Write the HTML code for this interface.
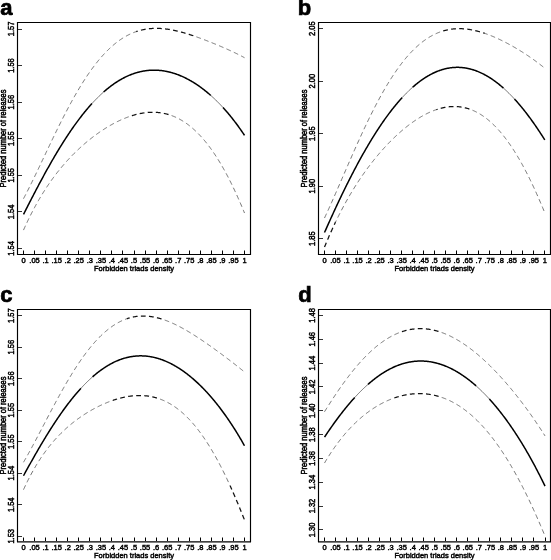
<!DOCTYPE html>
<html><head><meta charset="utf-8"><style>
html,body{margin:0;padding:0;background:#fff;}
svg{display:block;filter:grayscale(1);}
text{font-family:"Liberation Sans", sans-serif;fill:#000;stroke:#000;stroke-width:0.45px;}
.xl{font-size:7.5px;text-anchor:middle;}
.yl{font-size:7.5px;text-anchor:middle;}
.letter{font-size:22px;font-weight:bold;stroke:#000;stroke-width:0.7px;}
.box{fill:none;stroke:#000;stroke-width:1.15;}
.ytick{stroke:#333;stroke-width:1;}
.xtick{stroke:#000;stroke-width:1;}
.solidT{fill:none;stroke:#000;stroke-width:1.5;}
.solidt{fill:none;stroke:#444;stroke-width:0.8;}
.dashT{fill:none;stroke:#111;stroke-width:1.25;stroke-dasharray:4.8 3.3;}
.dasht{fill:none;stroke:#505050;stroke-width:0.8;stroke-dasharray:4.8 3.3;}
</style></head><body>
<svg width="551" height="560" viewBox="0 0 551 560">
<path d="M23.50,198.67 L24.05,197.63 L24.61,196.58 L25.16,195.52 L25.71,194.46 L26.26,193.39 L26.82,192.32 L27.37,191.24 L27.92,190.15 L28.47,189.06 L29.02,187.96 L29.58,186.86 L30.13,185.75 L30.68,184.64 L31.23,183.52 L31.79,182.40 L32.34,181.28 L32.89,180.15 L33.45,179.02 L34.00,177.88 L34.55,176.74 L35.10,175.60 L35.66,174.46 L36.21,173.31 L36.76,172.16 L37.31,171.01 L37.87,169.86 L38.42,168.70 L38.97,167.54 L39.52,166.38 L40.08,165.22 L40.63,164.06 L41.18,162.90 L41.73,161.73 L42.28,160.57 L42.84,159.41 L43.39,158.24 L43.94,157.08 L44.50,155.91 L45.05,154.75 L45.60,153.58 L46.15,152.42 L46.70,151.25 L47.26,150.09 L47.81,148.93 L48.36,147.77 L48.92,146.61 L49.47,145.45 L50.02,144.29 L50.57,143.14 L51.12,141.98 L51.68,140.83 L52.23,139.68 L52.78,138.54 L53.34,137.39 L53.89,136.25 L54.44,135.11 L54.99,133.97 L55.54,132.84 L56.10,131.71 L56.65,130.58 L57.20,129.45 L57.76,128.33 L58.31,127.21 L58.86,126.10 L59.41,124.98 L59.97,123.88 L60.52,122.77 L61.07,121.67 L61.62,120.58 L62.18,119.48 L62.73,118.40 L63.28,117.31 L63.83,116.23 L64.38,115.16 L64.94,114.09 L65.49,113.03 L66.04,111.96 L66.59,110.91 L67.15,109.86 L67.70,108.81 L68.25,107.77 L68.81,106.74 L69.36,105.71 L69.91,104.68 L70.46,103.67 L71.02,102.65 L71.57,101.64 L72.12,100.64 L72.67,99.65 L73.22,98.66 L73.78,97.67 L74.33,96.69 L74.88,95.72 L75.44,94.75 L75.99,93.79 L76.54,92.84 L77.09,91.89 L77.64,90.95 L78.20,90.01 L78.75,89.08 L79.30,88.16 L79.86,87.25 L80.41,86.34 L80.96,85.43 L81.51,84.54 L82.06,83.65 L82.62,82.76 L83.17,81.89 L83.72,81.02 L84.28,80.16 L84.83,79.30 L85.38,78.45 L85.93,77.61 L86.49,76.78 L87.04,75.95 L87.59,75.13 L88.14,74.32 L88.69,73.51 L89.25,72.71 L89.80,71.92 L90.35,71.14 L90.91,70.36 L91.46,69.59 L92.01,68.83 L92.56,68.07 L93.11,67.33 L93.67,66.58 L94.22,65.85 L94.77,65.13 L95.33,64.41 L95.88,63.70 L96.43,62.99 L96.98,62.30 L97.54,61.61 L98.09,60.93 L98.64,60.26 L99.19,59.59 L99.75,58.93 L100.30,58.28 L100.85,57.64 L101.40,57.00 L101.95,56.37 L102.51,55.75 L103.06,55.14 L103.61,54.53 L104.16,53.93 L104.72,53.34 L105.27,52.76 L105.82,52.18 L106.38,51.62 L106.93,51.06 L107.48,50.50 L108.03,49.96 L108.59,49.42 L109.14,48.89 L109.69,48.36 L110.24,47.85 L110.80,47.34 L111.35,46.84 L111.90,46.35 L112.45,45.86 L113.01,45.38 L113.56,44.91 L114.11,44.44 L114.66,43.99 L115.22,43.54 L115.77,43.10 L116.32,42.66 L116.87,42.23 L117.42,41.81 L117.98,41.40 L118.53,40.99 L119.08,40.59 L119.64,40.20 L120.19,39.82 L120.74,39.44 L121.29,39.07 L121.84,38.71 L122.40,38.35 L122.95,38.00 L123.50,37.66 L124.06,37.32 L124.61,36.99 L125.16,36.67 L125.71,36.35 L126.27,36.05 L126.82,35.74 L127.37,35.45 L127.92,35.16 L128.48,34.88 L129.03,34.60 L129.58,34.33 L130.13,34.07 L130.69,33.82 L131.24,33.57 L131.79,33.33 L132.34,33.09 L132.89,32.86 L133.45,32.64 L134.00,32.42 L134.55,32.21 L135.11,32.00 L135.66,31.80 L136.21,31.61" class="dasht" stroke-dashoffset="0.00"/>
<path d="M136.21,31.61 L136.76,31.42 L137.31,31.24 L137.87,31.07 L138.42,30.90 L138.97,30.74 L139.53,30.58 L140.08,30.43 L140.63,30.28 L141.18,30.14 L141.74,30.01 L142.29,29.88 L142.84,29.76 L143.39,29.64 L143.94,29.53 L144.50,29.42 L145.05,29.32 L145.60,29.23 L146.16,29.14 L146.71,29.05 L147.26,28.97 L147.81,28.90 L148.37,28.83 L148.92,28.76 L149.47,28.70 L150.02,28.65 L150.58,28.60 L151.13,28.56 L151.68,28.52 L152.23,28.48 L152.78,28.45 L153.34,28.42 L153.89,28.40 L154.44,28.39 L155.00,28.38 L155.55,28.37 L156.10,28.36 L156.65,28.37 L157.20,28.37 L157.76,28.38 L158.31,28.40 L158.86,28.41 L159.41,28.44 L159.97,28.46 L160.52,28.49 L161.07,28.53 L161.62,28.57 L162.18,28.61 L162.73,28.66 L163.28,28.70 L163.84,28.76 L164.39,28.82 L164.94,28.88 L165.49,28.94 L166.05,29.01 L166.60,29.08 L167.15,29.16 L167.70,29.23 L168.25,29.32 L168.81,29.40 L169.36,29.49 L169.91,29.58 L170.47,29.68 L171.02,29.77 L171.57,29.87 L172.12,29.98 L172.68,30.08 L173.23,30.19 L173.78,30.31 L174.33,30.42 L174.89,30.54 L175.44,30.66 L175.99,30.78 L176.54,30.91 L177.10,31.04 L177.65,31.17 L178.20,31.30 L178.75,31.44 L179.30,31.58 L179.86,31.72 L180.41,31.86 L180.96,32.01 L181.51,32.16 L182.07,32.31 L182.62,32.46 L183.17,32.61 L183.72,32.77 L184.28,32.93 L184.83,33.09 L185.38,33.25 L185.94,33.42 L186.49,33.58 L187.04,33.75 L187.59,33.92 L188.15,34.09 L188.70,34.27 L189.25,34.44 L189.80,34.62 L190.35,34.80 L190.91,34.98 L191.46,35.16 L192.01,35.34 L192.56,35.52 L193.12,35.71 L193.67,35.90 L194.22,36.09" class="dashT" stroke-dashoffset="205.67"/>
<path d="M194.22,36.09 L194.78,36.28 L195.33,36.47 L195.88,36.66 L196.43,36.86 L196.99,37.05 L197.54,37.25 L198.09,37.45 L198.64,37.65 L199.20,37.85 L199.75,38.05 L200.30,38.25 L200.85,38.45 L201.41,38.66 L201.96,38.87 L202.51,39.07 L203.06,39.28 L203.62,39.49 L204.17,39.70 L204.72,39.91 L205.27,40.12 L205.83,40.33 L206.38,40.55 L206.93,40.76 L207.48,40.98 L208.03,41.20 L208.59,41.41 L209.14,41.63 L209.69,41.85 L210.25,42.07 L210.80,42.29 L211.35,42.51 L211.90,42.73 L212.45,42.96 L213.01,43.18 L213.56,43.41 L214.11,43.63 L214.66,43.86 L215.22,44.09 L215.77,44.31 L216.32,44.54 L216.88,44.77 L217.43,45.00 L217.98,45.23 L218.53,45.47 L219.09,45.70 L219.64,45.93 L220.19,46.17 L220.74,46.40 L221.30,46.64 L221.85,46.88 L222.40,47.11 L222.95,47.35 L223.50,47.59 L224.06,47.84 L224.61,48.08 L225.16,48.32 L225.72,48.56 L226.27,48.81 L226.82,49.06 L227.37,49.30 L227.93,49.55 L228.48,49.80 L229.03,50.05 L229.58,50.30 L230.14,50.56 L230.69,50.81 L231.24,51.07 L231.79,51.32 L232.35,51.58 L232.90,51.84 L233.45,52.10 L234.00,52.37 L234.56,52.63 L235.11,52.90 L235.66,53.16 L236.21,53.43 L236.76,53.70 L237.32,53.98 L237.87,54.25 L238.42,54.53 L238.97,54.81 L239.53,55.09 L240.08,55.37 L240.63,55.65 L241.19,55.94 L241.74,56.23 L242.29,56.52 L242.84,56.81 L243.40,57.11 L243.95,57.40 L244.50,57.70" class="dasht" stroke-dashoffset="264.99"/>
<path d="M23.50,230.10 L24.05,228.87 L24.61,227.64 L25.16,226.43 L25.71,225.23 L26.26,224.04 L26.82,222.86 L27.37,221.69 L27.92,220.54 L28.47,219.39 L29.02,218.26 L29.58,217.14 L30.13,216.03 L30.68,214.93 L31.23,213.84 L31.79,212.76 L32.34,211.69 L32.89,210.64 L33.45,209.59 L34.00,208.55 L34.55,207.52 L35.10,206.50 L35.66,205.49 L36.21,204.50 L36.76,203.51 L37.31,202.53 L37.87,201.55 L38.42,200.59 L38.97,199.64 L39.52,198.70 L40.08,197.76 L40.63,196.83 L41.18,195.92 L41.73,195.01 L42.28,194.10 L42.84,193.21 L43.39,192.33 L43.94,191.45 L44.50,190.58 L45.05,189.72 L45.60,188.87 L46.15,188.02 L46.70,187.18 L47.26,186.35 L47.81,185.53 L48.36,184.72 L48.92,183.91 L49.47,183.11 L50.02,182.31 L50.57,181.52 L51.12,180.74 L51.68,179.97 L52.23,179.20 L52.78,178.44 L53.34,177.69 L53.89,176.94 L54.44,176.20 L54.99,175.47 L55.54,174.74 L56.10,174.02 L56.65,173.30 L57.20,172.60 L57.76,171.89 L58.31,171.19 L58.86,170.50 L59.41,169.82 L59.97,169.14 L60.52,168.46 L61.07,167.79 L61.62,167.13 L62.18,166.47 L62.73,165.82 L63.28,165.17 L63.83,164.53 L64.38,163.89 L64.94,163.26 L65.49,162.63 L66.04,162.01 L66.59,161.40 L67.15,160.79 L67.70,160.18 L68.25,159.58 L68.81,158.98 L69.36,158.39 L69.91,157.80 L70.46,157.22 L71.02,156.64 L71.57,156.07 L72.12,155.50 L72.67,154.93 L73.22,154.37 L73.78,153.82 L74.33,153.26 L74.88,152.72 L75.44,152.17 L75.99,151.63 L76.54,151.10 L77.09,150.57 L77.64,150.04 L78.20,149.52 L78.75,149.00 L79.30,148.49 L79.86,147.98 L80.41,147.47 L80.96,146.97 L81.51,146.47 L82.06,145.98 L82.62,145.49 L83.17,145.00 L83.72,144.52 L84.28,144.04 L84.83,143.56 L85.38,143.09 L85.93,142.62 L86.49,142.15 L87.04,141.69 L87.59,141.24 L88.14,140.78 L88.69,140.33 L89.25,139.88 L89.80,139.44 L90.35,139.00 L90.91,138.57 L91.46,138.13 L92.01,137.70 L92.56,137.28 L93.11,136.86 L93.67,136.44 L94.22,136.02 L94.77,135.61 L95.33,135.20 L95.88,134.79 L96.43,134.39 L96.98,133.99 L97.54,133.60 L98.09,133.21 L98.64,132.82 L99.19,132.43 L99.75,132.05 L100.30,131.67 L100.85,131.30 L101.40,130.92 L101.95,130.56 L102.51,130.19 L103.06,129.83 L103.61,129.47 L104.16,129.11 L104.72,128.76 L105.27,128.41 L105.82,128.07 L106.38,127.73 L106.93,127.39 L107.48,127.05 L108.03,126.72 L108.59,126.39 L109.14,126.07 L109.69,125.74 L110.24,125.42 L110.80,125.11 L111.35,124.80 L111.90,124.49 L112.45,124.18 L113.01,123.88 L113.56,123.58 L114.11,123.29 L114.66,123.00 L115.22,122.71 L115.77,122.42 L116.32,122.14 L116.87,121.86 L117.42,121.59 L117.98,121.32 L118.53,121.05 L119.08,120.79 L119.64,120.53 L120.19,120.27 L120.74,120.02 L121.29,119.77 L121.84,119.52 L122.40,119.28 L122.95,119.04 L123.50,118.81 L124.06,118.58 L124.61,118.35 L125.16,118.13 L125.71,117.91 L126.27,117.69 L126.82,117.48 L127.37,117.27 L127.92,117.06 L128.48,116.86 L129.03,116.67 L129.58,116.47" class="dasht" stroke-dashoffset="0.00"/>
<path d="M129.58,116.47 L130.13,116.28 L130.69,116.10 L131.24,115.92 L131.79,115.74 L132.34,115.57 L132.89,115.40 L133.45,115.23 L134.00,115.07 L134.55,114.92 L135.11,114.76 L135.66,114.62 L136.21,114.47 L136.76,114.33 L137.31,114.20 L137.87,114.07 L138.42,113.94 L138.97,113.82 L139.53,113.70 L140.08,113.59 L140.63,113.48 L141.18,113.37 L141.74,113.27 L142.29,113.18 L142.84,113.08 L143.39,113.00 L143.94,112.92 L144.50,112.84 L145.05,112.77 L145.60,112.70 L146.16,112.64 L146.71,112.58 L147.26,112.53 L147.81,112.48 L148.37,112.44 L148.92,112.40 L149.47,112.36 L150.02,112.34 L150.58,112.31 L151.13,112.29 L151.68,112.28 L152.23,112.27 L152.78,112.27 L153.34,112.27 L153.89,112.28 L154.44,112.30 L155.00,112.31 L155.55,112.34 L156.10,112.37 L156.65,112.40 L157.20,112.44 L157.76,112.49 L158.31,112.54 L158.86,112.60 L159.41,112.66 L159.97,112.73 L160.52,112.80 L161.07,112.88 L161.62,112.97 L162.18,113.06 L162.73,113.16 L163.28,113.26 L163.84,113.37 L164.39,113.49 L164.94,113.61 L165.49,113.74 L166.05,113.87 L166.60,114.01 L167.15,114.16 L167.70,114.31 L168.25,114.47 L168.81,114.63 L169.36,114.80 L169.91,114.98 L170.47,115.17" class="dashT" stroke-dashoffset="159.58"/>
<path d="M170.47,115.17 L171.02,115.36 L171.57,115.55 L172.12,115.76 L172.68,115.97 L173.23,116.19 L173.78,116.41 L174.33,116.64 L174.89,116.88 L175.44,117.12 L175.99,117.37 L176.54,117.63 L177.10,117.89 L177.65,118.17 L178.20,118.44 L178.75,118.73 L179.30,119.02 L179.86,119.32 L180.41,119.63 L180.96,119.94 L181.51,120.26 L182.07,120.59 L182.62,120.93 L183.17,121.27 L183.72,121.62 L184.28,121.98 L184.83,122.35 L185.38,122.72 L185.94,123.10 L186.49,123.49 L187.04,123.89 L187.59,124.29 L188.15,124.70 L188.70,125.12 L189.25,125.55 L189.80,125.98 L190.35,126.42 L190.91,126.87 L191.46,127.33 L192.01,127.80 L192.56,128.27 L193.12,128.76 L193.67,129.25 L194.22,129.74 L194.78,130.25 L195.33,130.77 L195.88,131.29 L196.43,131.82 L196.99,132.36 L197.54,132.91 L198.09,133.46 L198.64,134.03 L199.20,134.60 L199.75,135.18 L200.30,135.77 L200.85,136.37 L201.41,136.98 L201.96,137.60 L202.51,138.22 L203.06,138.85 L203.62,139.50 L204.17,140.15 L204.72,140.81 L205.27,141.48 L205.83,142.15 L206.38,142.84 L206.93,143.53 L207.48,144.24 L208.03,144.95 L208.59,145.67 L209.14,146.40 L209.69,147.14 L210.25,147.89 L210.80,148.65 L211.35,149.42 L211.90,150.19 L212.45,150.98 L213.01,151.77 L213.56,152.58 L214.11,153.39 L214.66,154.21 L215.22,155.05 L215.77,155.89 L216.32,156.74 L216.88,157.60 L217.43,158.47 L217.98,159.35 L218.53,160.23 L219.09,161.13 L219.64,162.04 L220.19,162.96 L220.74,163.88 L221.30,164.82 L221.85,165.77 L222.40,166.72 L222.95,167.69 L223.50,168.66 L224.06,169.65 L224.61,170.64 L225.16,171.64 L225.72,172.66 L226.27,173.68 L226.82,174.71 L227.37,175.76 L227.93,176.81 L228.48,177.87 L229.03,178.95 L229.58,180.03 L230.14,181.12 L230.69,182.22 L231.24,183.33 L231.79,184.46 L232.35,185.59 L232.90,186.73 L233.45,187.88 L234.00,189.04 L234.56,190.22 L235.11,191.40 L235.66,192.59 L236.21,193.79 L236.76,195.00 L237.32,196.23 L237.87,197.46 L238.42,198.70 L238.97,199.95 L239.53,201.21 L240.08,202.49 L240.63,203.77 L241.19,205.06 L241.74,206.36 L242.29,207.67 L242.84,209.00 L243.40,210.33 L243.95,211.67 L244.50,213.02" class="dasht" stroke-dashoffset="201.27"/>
<path d="M23.50,214.41 L24.05,213.32 L24.61,212.23 L25.16,211.14 L25.71,210.05 L26.26,208.96 L26.82,207.88 L27.37,206.79 L27.92,205.71 L28.47,204.63 L29.02,203.55 L29.58,202.47 L30.13,201.40 L30.68,200.32 L31.23,199.25 L31.79,198.18 L32.34,197.11 L32.89,196.04 L33.45,194.98 L34.00,193.92 L34.55,192.86 L35.10,191.80 L35.66,190.74 L36.21,189.69 L36.76,188.64 L37.31,187.59 L37.87,186.55 L38.42,185.51 L38.97,184.47 L39.52,183.43 L40.08,182.40 L40.63,181.36 L41.18,180.34 L41.73,179.31 L42.28,178.29 L42.84,177.27 L43.39,176.25 L43.94,175.24 L44.50,174.23 L45.05,173.22 L45.60,172.22 L46.15,171.22 L46.70,170.22 L47.26,169.23 L47.81,168.24 L48.36,167.26 L48.92,166.27 L49.47,165.30 L50.02,164.32 L50.57,163.35 L51.12,162.38 L51.68,161.42 L52.23,160.46 L52.78,159.50 L53.34,158.55 L53.89,157.60 L54.44,156.66 L54.99,155.72 L55.54,154.78 L56.10,153.85 L56.65,152.93 L57.20,152.00 L57.76,151.08 L58.31,150.17 L58.86,149.26 L59.41,148.35 L59.97,147.45 L60.52,146.55 L61.07,145.66 L61.62,144.77 L62.18,143.89 L62.73,143.01 L63.28,142.13 L63.83,141.26 L64.38,140.40 L64.94,139.54 L65.49,138.68 L66.04,137.83 L66.59,136.98 L67.15,136.14 L67.70,135.30 L68.25,134.47 L68.81,133.64 L69.36,132.82 L69.91,132.00 L70.46,131.19 L71.02,130.38 L71.57,129.58 L72.12,128.78 L72.67,127.99 L73.22,127.20 L73.78,126.42 L74.33,125.64 L74.88,124.87 L75.44,124.10 L75.99,123.34 L76.54,122.58 L77.09,121.83 L77.64,121.08 L78.20,120.34 L78.75,119.60 L79.30,118.87 L79.86,118.14 L80.41,117.42 L80.96,116.71 L81.51,115.99 L82.06,115.29 L82.62,114.59 L83.17,113.89 L83.72,113.21 L84.28,112.52 L84.83,111.84 L85.38,111.17 L85.93,110.50 L86.49,109.84 L87.04,109.18 L87.59,108.53 L88.14,107.88 L88.69,107.24 L89.25,106.61 L89.80,105.98 L90.35,105.35 L90.91,104.73 L91.46,104.12 L92.01,103.51" class="solidT"/>
<path d="M92.01,103.51 L92.56,102.91 L93.11,102.31 L93.67,101.72 L94.22,101.14 L94.77,100.55 L95.33,99.98 L95.88,99.41 L96.43,98.85 L96.98,98.29 L97.54,97.73 L98.09,97.19 L98.64,96.65 L99.19,96.11 L99.75,95.58 L100.30,95.05 L100.85,94.53 L101.40,94.02 L101.95,93.51 L102.51,93.01 L103.06,92.51 L103.61,92.02" class="solidt"/>
<path d="M103.61,92.02 L104.16,91.53 L104.72,91.05 L105.27,90.58 L105.82,90.11 L106.38,89.65 L106.93,89.19 L107.48,88.73 L108.03,88.29 L108.59,87.85 L109.14,87.41 L109.69,86.98 L110.24,86.56 L110.80,86.14 L111.35,85.72 L111.90,85.31 L112.45,84.91 L113.01,84.52 L113.56,84.12 L114.11,83.74 L114.66,83.36 L115.22,82.98 L115.77,82.61 L116.32,82.25 L116.87,81.89 L117.42,81.54 L117.98,81.19 L118.53,80.85 L119.08,80.51 L119.64,80.18 L120.19,79.86 L120.74,79.54 L121.29,79.23 L121.84,78.92 L122.40,78.61 L122.95,78.32 L123.50,78.02 L124.06,77.74 L124.61,77.46 L125.16,77.18 L125.71,76.91 L126.27,76.64 L126.82,76.39 L127.37,76.13 L127.92,75.88 L128.48,75.64 L129.03,75.40 L129.58,75.17 L130.13,74.94 L130.69,74.72 L131.24,74.50 L131.79,74.29 L132.34,74.09 L132.89,73.89 L133.45,73.69 L134.00,73.50 L134.55,73.32 L135.11,73.14 L135.66,72.97 L136.21,72.80 L136.76,72.63 L137.31,72.48 L137.87,72.32 L138.42,72.18 L138.97,72.04 L139.53,71.90 L140.08,71.77 L140.63,71.64 L141.18,71.52 L141.74,71.40 L142.29,71.29 L142.84,71.19 L143.39,71.09 L143.94,70.99 L144.50,70.90 L145.05,70.82 L145.60,70.74 L146.16,70.66 L146.71,70.59 L147.26,70.53 L147.81,70.47 L148.37,70.42 L148.92,70.37 L149.47,70.32 L150.02,70.28 L150.58,70.25 L151.13,70.22 L151.68,70.20 L152.23,70.18 L152.78,70.17 L153.34,70.16 L153.89,70.15 L154.44,70.15 L155.00,70.16 L155.55,70.17 L156.10,70.19 L156.65,70.21 L157.20,70.24 L157.76,70.27 L158.31,70.30 L158.86,70.34 L159.41,70.39 L159.97,70.44 L160.52,70.50 L161.07,70.56 L161.62,70.62 L162.18,70.69 L162.73,70.77 L163.28,70.85 L163.84,70.93 L164.39,71.02 L164.94,71.12 L165.49,71.22 L166.05,71.32 L166.60,71.43 L167.15,71.54 L167.70,71.66 L168.25,71.79 L168.81,71.91 L169.36,72.05 L169.91,72.18 L170.47,72.33 L171.02,72.47 L171.57,72.63 L172.12,72.78 L172.68,72.95 L173.23,73.11 L173.78,73.28 L174.33,73.46 L174.89,73.64 L175.44,73.82 L175.99,74.01 L176.54,74.21 L177.10,74.41 L177.65,74.61 L178.20,74.82 L178.75,75.03 L179.30,75.25 L179.86,75.48 L180.41,75.70 L180.96,75.94 L181.51,76.17 L182.07,76.41 L182.62,76.66 L183.17,76.91 L183.72,77.17 L184.28,77.43 L184.83,77.69 L185.38,77.96 L185.94,78.24 L186.49,78.52 L187.04,78.80 L187.59,79.09 L188.15,79.38 L188.70,79.68 L189.25,79.98 L189.80,80.29 L190.35,80.60 L190.91,80.91 L191.46,81.24 L192.01,81.56 L192.56,81.89 L193.12,82.23 L193.67,82.57 L194.22,82.91 L194.78,83.26 L195.33,83.61 L195.88,83.97 L196.43,84.34 L196.99,84.70 L197.54,85.08 L198.09,85.45 L198.64,85.84 L199.20,86.22 L199.75,86.61 L200.30,87.01 L200.85,87.41 L201.41,87.82 L201.96,88.23 L202.51,88.64 L203.06,89.06 L203.62,89.49 L204.17,89.92 L204.72,90.35 L205.27,90.79 L205.83,91.23 L206.38,91.68 L206.93,92.14 L207.48,92.59 L208.03,93.06 L208.59,93.53 L209.14,94.00 L209.69,94.48 L210.25,94.96 L210.80,95.45" class="solidT"/>
<path d="M210.80,95.45 L211.35,95.94 L211.90,96.44 L212.45,96.94 L213.01,97.45 L213.56,97.96 L214.11,98.48 L214.66,99.00 L215.22,99.53 L215.77,100.06 L216.32,100.60 L216.88,101.15 L217.43,101.69 L217.98,102.25 L218.53,102.81 L219.09,103.37 L219.64,103.94 L220.19,104.51 L220.74,105.09 L221.30,105.68 L221.85,106.27 L222.40,106.86 L222.95,107.46" class="solidt"/>
<path d="M222.95,107.46 L223.50,108.07 L224.06,108.68 L224.61,109.30 L225.16,109.92 L225.72,110.55 L226.27,111.18 L226.82,111.82 L227.37,112.46 L227.93,113.11 L228.48,113.77 L229.03,114.43 L229.58,115.10 L230.14,115.77 L230.69,116.45 L231.24,117.13 L231.79,117.82 L232.35,118.51 L232.90,119.21 L233.45,119.92 L234.00,120.63 L234.56,121.35 L235.11,122.08 L235.66,122.81 L236.21,123.54 L236.76,124.29 L237.32,125.04 L237.87,125.79 L238.42,126.55 L238.97,127.32 L239.53,128.09 L240.08,128.87 L240.63,129.66 L241.19,130.45 L241.74,131.25 L242.29,132.06 L242.84,132.87 L243.40,133.69 L243.95,134.51 L244.50,135.34" class="solidT"/>
<path d="M17.5,22.5 H250.5 V254.5 H17.5 Z" class="box"/>
<line x1="18.0" x2="22.0" y1="29.50" y2="29.50" class="ytick"/>
<text transform="translate(14.30 29.00) scale(1.12 1) rotate(-90)" class="yl">1.57</text>
<line x1="18.0" x2="22.0" y1="65.50" y2="65.50" class="ytick"/>
<text transform="translate(14.30 65.58) scale(1.12 1) rotate(-90)" class="yl">1.56</text>
<line x1="18.0" x2="22.0" y1="102.50" y2="102.50" class="ytick"/>
<text transform="translate(14.30 102.16) scale(1.12 1) rotate(-90)" class="yl">1.56</text>
<line x1="18.0" x2="22.0" y1="138.50" y2="138.50" class="ytick"/>
<text transform="translate(14.30 138.74) scale(1.12 1) rotate(-90)" class="yl">1.55</text>
<line x1="18.0" x2="22.0" y1="175.50" y2="175.50" class="ytick"/>
<text transform="translate(14.30 175.32) scale(1.12 1) rotate(-90)" class="yl">1.55</text>
<line x1="18.0" x2="22.0" y1="211.50" y2="211.50" class="ytick"/>
<text transform="translate(14.30 211.90) scale(1.12 1) rotate(-90)" class="yl">1.54</text>
<line x1="18.0" x2="22.0" y1="248.50" y2="248.50" class="ytick"/>
<text transform="translate(14.30 248.48) scale(1.12 1) rotate(-90)" class="yl">1.54</text>
<line x1="23.50" x2="23.50" y1="254.0" y2="250.5" class="xtick"/>
<text x="23.50" y="262.90" class="xl">0</text>
<line x1="34.50" x2="34.50" y1="254.0" y2="250.5" class="xtick"/>
<text x="34.55" y="262.90" class="xl">.05</text>
<line x1="45.50" x2="45.50" y1="254.0" y2="250.5" class="xtick"/>
<text x="45.60" y="262.90" class="xl">.1</text>
<line x1="56.50" x2="56.50" y1="254.0" y2="250.5" class="xtick"/>
<text x="56.65" y="262.90" class="xl">.15</text>
<line x1="67.50" x2="67.50" y1="254.0" y2="250.5" class="xtick"/>
<text x="67.70" y="262.90" class="xl">.2</text>
<line x1="78.50" x2="78.50" y1="254.0" y2="250.5" class="xtick"/>
<text x="78.75" y="262.90" class="xl">.25</text>
<line x1="89.50" x2="89.50" y1="254.0" y2="250.5" class="xtick"/>
<text x="89.80" y="262.90" class="xl">.3</text>
<line x1="100.50" x2="100.50" y1="254.0" y2="250.5" class="xtick"/>
<text x="100.85" y="262.90" class="xl">.35</text>
<line x1="111.50" x2="111.50" y1="254.0" y2="250.5" class="xtick"/>
<text x="111.90" y="262.90" class="xl">.4</text>
<line x1="122.50" x2="122.50" y1="254.0" y2="250.5" class="xtick"/>
<text x="122.95" y="262.90" class="xl">.45</text>
<line x1="134.50" x2="134.50" y1="254.0" y2="250.5" class="xtick"/>
<text x="134.00" y="262.90" class="xl">.5</text>
<line x1="145.50" x2="145.50" y1="254.0" y2="250.5" class="xtick"/>
<text x="145.05" y="262.90" class="xl">.55</text>
<line x1="156.50" x2="156.50" y1="254.0" y2="250.5" class="xtick"/>
<text x="156.10" y="262.90" class="xl">.6</text>
<line x1="167.50" x2="167.50" y1="254.0" y2="250.5" class="xtick"/>
<text x="167.15" y="262.90" class="xl">.65</text>
<line x1="178.50" x2="178.50" y1="254.0" y2="250.5" class="xtick"/>
<text x="178.20" y="262.90" class="xl">.7</text>
<line x1="189.50" x2="189.50" y1="254.0" y2="250.5" class="xtick"/>
<text x="189.25" y="262.90" class="xl">.75</text>
<line x1="200.50" x2="200.50" y1="254.0" y2="250.5" class="xtick"/>
<text x="200.30" y="262.90" class="xl">.8</text>
<line x1="211.50" x2="211.50" y1="254.0" y2="250.5" class="xtick"/>
<text x="211.35" y="262.90" class="xl">.85</text>
<line x1="222.50" x2="222.50" y1="254.0" y2="250.5" class="xtick"/>
<text x="222.40" y="262.90" class="xl">.9</text>
<line x1="233.50" x2="233.50" y1="254.0" y2="250.5" class="xtick"/>
<text x="233.45" y="262.90" class="xl">.95</text>
<line x1="244.50" x2="244.50" y1="254.0" y2="250.5" class="xtick"/>
<text x="244.50" y="262.90" class="xl">1</text>
<text x="134.00" y="270.70" class="xl">Forbidden triads density</text>
<text transform="translate(5.70 138.50) scale(1.12 1) rotate(-90)" class="yl">Predicted number of releases</text>
<text x="0.20" y="14.70" class="letter">a</text>
<path d="M324.50,218.02 L325.05,216.84 L325.60,215.66 L326.15,214.47 L326.70,213.28 L327.25,212.08 L327.80,210.88 L328.36,209.67 L328.91,208.46 L329.46,207.24 L330.01,206.02 L330.56,204.79 L331.11,203.56 L331.66,202.33 L332.21,201.09 L332.76,199.85 L333.31,198.60 L333.86,197.36 L334.41,196.11 L334.96,194.85 L335.51,193.60 L336.07,192.34 L336.62,191.08 L337.17,189.82 L337.72,188.55 L338.27,187.29 L338.82,186.02 L339.37,184.75 L339.92,183.48 L340.47,182.21 L341.02,180.94 L341.57,179.67 L342.12,178.40 L342.67,177.13 L343.23,175.86 L343.78,174.59 L344.33,173.31 L344.88,172.04 L345.43,170.77 L345.98,169.50 L346.53,168.23 L347.08,166.97 L347.63,165.70 L348.18,164.43 L348.73,163.17 L349.28,161.90 L349.83,160.64 L350.39,159.38 L350.94,158.13 L351.49,156.87 L352.04,155.62 L352.59,154.37 L353.14,153.12 L353.69,151.87 L354.24,150.63 L354.79,149.39 L355.34,148.15 L355.89,146.92 L356.44,145.69 L356.99,144.46 L357.55,143.23 L358.10,142.01 L358.65,140.80 L359.20,139.58 L359.75,138.37 L360.30,137.17 L360.85,135.96 L361.40,134.77 L361.95,133.57 L362.50,132.38 L363.05,131.20 L363.60,130.02 L364.15,128.84 L364.70,127.67 L365.26,126.50 L365.81,125.34 L366.36,124.19 L366.91,123.04 L367.46,121.89 L368.01,120.75 L368.56,119.61 L369.11,118.48 L369.66,117.36 L370.21,116.24 L370.76,115.13 L371.31,114.02 L371.86,112.92 L372.42,111.82 L372.97,110.73 L373.52,109.64 L374.07,108.57 L374.62,107.49 L375.17,106.43 L375.72,105.37 L376.27,104.31 L376.82,103.27 L377.37,102.23 L377.92,101.19 L378.47,100.16 L379.02,99.14 L379.57,98.13 L380.13,97.12 L380.68,96.12 L381.23,95.12 L381.78,94.13 L382.33,93.15 L382.88,92.18 L383.43,91.21 L383.98,90.25 L384.53,89.30 L385.08,88.35 L385.63,87.42 L386.18,86.48 L386.73,85.56 L387.29,84.64 L387.84,83.73 L388.39,82.83 L388.94,81.93 L389.49,81.05 L390.04,80.17 L390.59,79.29 L391.14,78.43 L391.69,77.57 L392.24,76.72 L392.79,75.88 L393.34,75.04 L393.89,74.21 L394.45,73.39 L395.00,72.58 L395.55,71.77 L396.10,70.98 L396.65,70.19 L397.20,69.41 L397.75,68.63 L398.30,67.86 L398.85,67.11 L399.40,66.35 L399.95,65.61 L400.50,64.88 L401.05,64.15 L401.61,63.43 L402.16,62.72 L402.71,62.01 L403.26,61.31 L403.81,60.63 L404.36,59.94 L404.91,59.27 L405.46,58.61 L406.01,57.95 L406.56,57.30 L407.11,56.66 L407.66,56.02 L408.21,55.40 L408.76,54.78 L409.32,54.17 L409.87,53.56 L410.42,52.97 L410.97,52.38 L411.52,51.80 L412.07,51.23 L412.62,50.67 L413.17,50.11 L413.72,49.56 L414.27,49.02 L414.82,48.49 L415.37,47.96 L415.92,47.44 L416.48,46.93 L417.03,46.43 L417.58,45.94 L418.13,45.45 L418.68,44.97 L419.23,44.50 L419.78,44.03 L420.33,43.58 L420.88,43.13 L421.43,42.69 L421.98,42.25 L422.53,41.82 L423.08,41.41 L423.63,40.99 L424.19,40.59 L424.74,40.19 L425.29,39.80 L425.84,39.42 L426.39,39.04 L426.94,38.68 L427.49,38.32 L428.04,37.96 L428.59,37.62 L429.14,37.28 L429.69,36.95 L430.24,36.62 L430.79,36.30 L431.35,35.99 L431.90,35.69 L432.45,35.39 L433.00,35.10 L433.55,34.82 L434.10,34.54 L434.65,34.27 L435.20,34.01 L435.75,33.76 L436.30,33.51 L436.85,33.27 L437.40,33.03 L437.95,32.80 L438.51,32.58 L439.06,32.36 L439.61,32.15 L440.16,31.95 L440.71,31.76" class="dasht" stroke-dashoffset="0.00"/>
<path d="M440.71,31.76 L441.26,31.57 L441.81,31.38 L442.36,31.21 L442.91,31.04 L443.46,30.87 L444.01,30.71 L444.56,30.56 L445.11,30.42 L445.66,30.28 L446.22,30.14 L446.77,30.02 L447.32,29.89 L447.87,29.78 L448.42,29.67 L448.97,29.57 L449.52,29.47 L450.07,29.38 L450.62,29.29 L451.17,29.21 L451.72,29.13 L452.27,29.06 L452.82,29.00 L453.38,28.94 L453.93,28.89 L454.48,28.84 L455.03,28.80 L455.58,28.76 L456.13,28.73 L456.68,28.71 L457.23,28.69 L457.78,28.67 L458.33,28.66 L458.88,28.65 L459.43,28.65 L459.98,28.66 L460.54,28.67 L461.09,28.68 L461.64,28.70 L462.19,28.73 L462.74,28.76 L463.29,28.79 L463.84,28.83 L464.39,28.87 L464.94,28.92 L465.49,28.97 L466.04,29.03 L466.59,29.09 L467.14,29.16 L467.69,29.23 L468.25,29.30 L468.80,29.38 L469.35,29.46 L469.90,29.55 L470.45,29.64 L471.00,29.74 L471.55,29.84 L472.10,29.94 L472.65,30.05 L473.20,30.16 L473.75,30.28 L474.30,30.40 L474.85,30.52 L475.41,30.65 L475.96,30.78 L476.51,30.92 L477.06,31.06 L477.61,31.20 L478.16,31.34 L478.71,31.49 L479.26,31.65 L479.81,31.80 L480.36,31.96 L480.91,32.13 L481.46,32.29 L482.01,32.47 L482.57,32.64 L483.12,32.82 L483.67,33.00 L484.22,33.18 L484.77,33.37" class="dashT" stroke-dashoffset="224.14"/>
<path d="M484.77,33.37 L485.32,33.56 L485.87,33.75 L486.42,33.94 L486.97,34.14 L487.52,34.34 L488.07,34.55 L488.62,34.76 L489.17,34.97 L489.72,35.18 L490.28,35.40 L490.83,35.62 L491.38,35.84 L491.93,36.06 L492.48,36.29 L493.03,36.52 L493.58,36.75 L494.13,36.99 L494.68,37.23 L495.23,37.47 L495.78,37.71 L496.33,37.96 L496.88,38.20 L497.44,38.45 L497.99,38.71 L498.54,38.96 L499.09,39.22 L499.64,39.48 L500.19,39.74 L500.74,40.01 L501.29,40.27 L501.84,40.54 L502.39,40.82 L502.94,41.09 L503.49,41.37 L504.04,41.64 L504.60,41.92 L505.15,42.21 L505.70,42.49 L506.25,42.78 L506.80,43.07 L507.35,43.36 L507.90,43.65 L508.45,43.95 L509.00,44.25 L509.55,44.55 L510.10,44.85 L510.65,45.15 L511.20,45.46 L511.75,45.76 L512.31,46.07 L512.86,46.39 L513.41,46.70 L513.96,47.02 L514.51,47.33 L515.06,47.65 L515.61,47.98 L516.16,48.30 L516.71,48.63 L517.26,48.95 L517.81,49.28 L518.36,49.62 L518.91,49.95 L519.47,50.29 L520.02,50.63 L520.57,50.97 L521.12,51.31 L521.67,51.65 L522.22,52.00 L522.77,52.35 L523.32,52.70 L523.87,53.05 L524.42,53.41 L524.97,53.76 L525.52,54.12 L526.07,54.48 L526.63,54.85 L527.18,55.21 L527.73,55.58 L528.28,55.95 L528.83,56.32 L529.38,56.70 L529.93,57.08 L530.48,57.45 L531.03,57.84 L531.58,58.22 L532.13,58.61 L532.68,59.00 L533.23,59.39 L533.78,59.78 L534.34,60.18 L534.89,60.58 L535.44,60.98 L535.99,61.38 L536.54,61.79 L537.09,62.20 L537.64,62.61 L538.19,63.03 L538.74,63.45 L539.29,63.87 L539.84,64.29 L540.39,64.72 L540.94,65.15 L541.50,65.58 L542.05,66.02 L542.60,66.46 L543.15,66.90 L543.70,67.35 L544.25,67.80 L544.80,68.25" class="dasht" stroke-dashoffset="269.10"/>
<path d="M324.50,247.11 L325.05,245.76 L325.60,244.42 L326.15,243.09 L326.70,241.77 L327.25,240.46 L327.80,239.17 L328.36,237.88 L328.91,236.61 L329.46,235.34 L330.01,234.09 L330.56,232.85 L331.11,231.62 L331.66,230.40 L332.21,229.18 L332.76,227.98 L333.31,226.79 L333.86,225.61 L334.41,224.44 L334.96,223.27 L335.51,222.12" class="dashT" stroke-dashoffset="0.00"/>
<path d="M335.51,222.12 L336.07,220.98 L336.62,219.84 L337.17,218.72 L337.72,217.60 L338.27,216.49 L338.82,215.40 L339.37,214.31 L339.92,213.23 L340.47,212.15 L341.02,211.09 L341.57,210.03 L342.12,208.99 L342.67,207.95 L343.23,206.92 L343.78,205.89 L344.33,204.88 L344.88,203.87 L345.43,202.87 L345.98,201.88 L346.53,200.89 L347.08,199.92 L347.63,198.95 L348.18,197.98 L348.73,197.03 L349.28,196.08 L349.83,195.14 L350.39,194.21 L350.94,193.28 L351.49,192.36 L352.04,191.45 L352.59,190.54 L353.14,189.64 L353.69,188.75 L354.24,187.86 L354.79,186.98 L355.34,186.11 L355.89,185.24 L356.44,184.38 L356.99,183.52 L357.55,182.67 L358.10,181.83 L358.65,180.99 L359.20,180.16 L359.75,179.34 L360.30,178.52 L360.85,177.70 L361.40,176.90 L361.95,176.10 L362.50,175.30 L363.05,174.51 L363.60,173.72 L364.15,172.94 L364.70,172.17 L365.26,171.40 L365.81,170.64 L366.36,169.88 L366.91,169.12 L367.46,168.38 L368.01,167.63 L368.56,166.90 L369.11,166.16 L369.66,165.44 L370.21,164.71 L370.76,163.99 L371.31,163.28 L371.86,162.57 L372.42,161.87 L372.97,161.17 L373.52,160.48 L374.07,159.79 L374.62,159.11 L375.17,158.43 L375.72,157.75 L376.27,157.08 L376.82,156.42 L377.37,155.76 L377.92,155.10 L378.47,154.45 L379.02,153.80 L379.57,153.16 L380.13,152.52 L380.68,151.88 L381.23,151.25 L381.78,150.63 L382.33,150.01 L382.88,149.39 L383.43,148.78 L383.98,148.17 L384.53,147.57 L385.08,146.97 L385.63,146.37 L386.18,145.78 L386.73,145.19 L387.29,144.61 L387.84,144.03 L388.39,143.46 L388.94,142.89 L389.49,142.32 L390.04,141.76 L390.59,141.20 L391.14,140.65 L391.69,140.10 L392.24,139.55 L392.79,139.01 L393.34,138.47 L393.89,137.94 L394.45,137.41 L395.00,136.89 L395.55,136.37 L396.10,135.85 L396.65,135.34 L397.20,134.83 L397.75,134.32 L398.30,133.82 L398.85,133.32 L399.40,132.83 L399.95,132.34 L400.50,131.86 L401.05,131.38 L401.61,130.90 L402.16,130.43 L402.71,129.96 L403.26,129.50 L403.81,129.04 L404.36,128.58 L404.91,128.13 L405.46,127.68 L406.01,127.24 L406.56,126.80 L407.11,126.37 L407.66,125.94 L408.21,125.51 L408.76,125.09 L409.32,124.67 L409.87,124.25 L410.42,123.84 L410.97,123.44 L411.52,123.04 L412.07,122.64 L412.62,122.25 L413.17,121.86 L413.72,121.47 L414.27,121.09 L414.82,120.72 L415.37,120.35 L415.92,119.98 L416.48,119.62 L417.03,119.26 L417.58,118.90 L418.13,118.55 L418.68,118.21 L419.23,117.87 L419.78,117.53 L420.33,117.20 L420.88,116.87 L421.43,116.55 L421.98,116.23 L422.53,115.92 L423.08,115.61 L423.63,115.31 L424.19,115.01 L424.74,114.71 L425.29,114.42 L425.84,114.14 L426.39,113.86 L426.94,113.58 L427.49,113.31 L428.04,113.05 L428.59,112.78 L429.14,112.53 L429.69,112.28 L430.24,112.03 L430.79,111.79 L431.35,111.55 L431.90,111.32 L432.45,111.09 L433.00,110.87 L433.55,110.66 L434.10,110.45 L434.65,110.24 L435.20,110.04 L435.75,109.84 L436.30,109.65" class="dasht" stroke-dashoffset="27.31"/>
<path d="M436.30,109.65 L436.85,109.47 L437.40,109.29 L437.95,109.11 L438.51,108.94 L439.06,108.78 L439.61,108.62 L440.16,108.47 L440.71,108.32 L441.26,108.18 L441.81,108.04 L442.36,107.91 L442.91,107.79 L443.46,107.67 L444.01,107.56 L444.56,107.45 L445.11,107.35 L445.66,107.25 L446.22,107.16 L446.77,107.07 L447.32,106.99 L447.87,106.92 L448.42,106.85 L448.97,106.79 L449.52,106.74 L450.07,106.69 L450.62,106.65 L451.17,106.61 L451.72,106.58 L452.27,106.55 L452.82,106.54 L453.38,106.52 L453.93,106.52 L454.48,106.52 L455.03,106.53 L455.58,106.54 L456.13,106.56 L456.68,106.58 L457.23,106.62 L457.78,106.66 L458.33,106.70 L458.88,106.75 L459.43,106.81 L459.98,106.88 L460.54,106.95 L461.09,107.03 L461.64,107.11 L462.19,107.21 L462.74,107.31 L463.29,107.41 L463.84,107.52 L464.39,107.64 L464.94,107.77 L465.49,107.91 L466.04,108.05 L466.59,108.19 L467.14,108.35 L467.69,108.51 L468.25,108.68 L468.80,108.86 L469.35,109.04" class="dashT" stroke-dashoffset="181.66"/>
<path d="M469.35,109.04 L469.90,109.23 L470.45,109.43 L471.00,109.64 L471.55,109.85 L472.10,110.07 L472.65,110.30 L473.20,110.53 L473.75,110.77 L474.30,111.02 L474.85,111.28 L475.41,111.55 L475.96,111.82 L476.51,112.10 L477.06,112.39 L477.61,112.68 L478.16,112.99 L478.71,113.30 L479.26,113.62 L479.81,113.95 L480.36,114.28 L480.91,114.62 L481.46,114.97 L482.01,115.33 L482.57,115.70 L483.12,116.07 L483.67,116.46 L484.22,116.85 L484.77,117.24 L485.32,117.65 L485.87,118.07 L486.42,118.49 L486.97,118.92 L487.52,119.36 L488.07,119.81 L488.62,120.26 L489.17,120.73 L489.72,121.20 L490.28,121.68 L490.83,122.17 L491.38,122.67 L491.93,123.18 L492.48,123.69 L493.03,124.21 L493.58,124.74 L494.13,125.28 L494.68,125.83 L495.23,126.39 L495.78,126.96 L496.33,127.53 L496.88,128.11 L497.44,128.71 L497.99,129.31 L498.54,129.91 L499.09,130.53 L499.64,131.16 L500.19,131.79 L500.74,132.44 L501.29,133.09 L501.84,133.75 L502.39,134.42 L502.94,135.10 L503.49,135.79 L504.04,136.48 L504.60,137.19 L505.15,137.90 L505.70,138.63 L506.25,139.36 L506.80,140.10 L507.35,140.85 L507.90,141.61 L508.45,142.38 L509.00,143.16 L509.55,143.94 L510.10,144.74 L510.65,145.54 L511.20,146.35 L511.75,147.17 L512.31,148.01 L512.86,148.84 L513.41,149.69 L513.96,150.55 L514.51,151.42 L515.06,152.29 L515.61,153.18 L516.16,154.07 L516.71,154.98 L517.26,155.89 L517.81,156.81 L518.36,157.74 L518.91,158.68 L519.47,159.63 L520.02,160.59 L520.57,161.55 L521.12,162.53 L521.67,163.51 L522.22,164.51 L522.77,165.51 L523.32,166.52 L523.87,167.54 L524.42,168.57 L524.97,169.61 L525.52,170.66 L526.07,171.72 L526.63,172.78 L527.18,173.86 L527.73,174.94 L528.28,176.03 L528.83,177.13 L529.38,178.25 L529.93,179.36 L530.48,180.49 L531.03,181.63 L531.58,182.78 L532.13,183.93 L532.68,185.10 L533.23,186.27 L533.78,187.45 L534.34,188.64 L534.89,189.84 L535.44,191.05 L535.99,192.27 L536.54,193.49 L537.09,194.73 L537.64,195.97 L538.19,197.22 L538.74,198.48 L539.29,199.75 L539.84,201.03 L540.39,202.31 L540.94,203.61 L541.50,204.91 L542.05,206.22 L542.60,207.54 L543.15,208.87 L543.70,210.20 L544.25,211.55 L544.80,212.90" class="dasht" stroke-dashoffset="215.34"/>
<path d="M324.50,232.57 L325.05,231.32 L325.60,230.08 L326.15,228.84 L326.70,227.60 L327.25,226.37 L327.80,225.13 L328.36,223.91 L328.91,222.68 L329.46,221.46 L330.01,220.24 L330.56,219.02 L331.11,217.81 L331.66,216.60 L332.21,215.39 L332.76,214.19 L333.31,212.99 L333.86,211.79 L334.41,210.60 L334.96,209.41 L335.51,208.23 L336.07,207.04 L336.62,205.86 L337.17,204.69 L337.72,203.52 L338.27,202.35 L338.82,201.18 L339.37,200.02 L339.92,198.87 L340.47,197.71 L341.02,196.56 L341.57,195.42 L342.12,194.28 L342.67,193.14 L343.23,192.00 L343.78,190.87 L344.33,189.75 L344.88,188.63 L345.43,187.51 L345.98,186.39 L346.53,185.28 L347.08,184.18 L347.63,183.08 L348.18,181.98 L348.73,180.88 L349.28,179.79 L349.83,178.71 L350.39,177.63 L350.94,176.55 L351.49,175.48 L352.04,174.41 L352.59,173.34 L353.14,172.28 L353.69,171.23 L354.24,170.18 L354.79,169.13 L355.34,168.09 L355.89,167.05 L356.44,166.02 L356.99,164.99 L357.55,163.96 L358.10,162.94 L358.65,161.93 L359.20,160.92 L359.75,159.91 L360.30,158.91 L360.85,157.91 L361.40,156.92 L361.95,155.93 L362.50,154.95 L363.05,153.97 L363.60,153.00 L364.15,152.03 L364.70,151.06 L365.26,150.11 L365.81,149.15 L366.36,148.20 L366.91,147.26 L367.46,146.32 L368.01,145.38 L368.56,144.45 L369.11,143.53 L369.66,142.61 L370.21,141.69 L370.76,140.78 L371.31,139.88 L371.86,138.97 L372.42,138.08 L372.97,137.19 L373.52,136.30 L374.07,135.42 L374.62,134.55 L375.17,133.68 L375.72,132.81 L376.27,131.96 L376.82,131.10 L377.37,130.25 L377.92,129.41 L378.47,128.57 L379.02,127.74 L379.57,126.91 L380.13,126.08 L380.68,125.27 L381.23,124.45 L381.78,123.65 L382.33,122.84 L382.88,122.05 L383.43,121.26 L383.98,120.47 L384.53,119.69 L385.08,118.91 L385.63,118.14 L386.18,117.38 L386.73,116.62 L387.29,115.87 L387.84,115.12 L388.39,114.38 L388.94,113.64 L389.49,112.91 L390.04,112.18 L390.59,111.46 L391.14,110.75 L391.69,110.04 L392.24,109.33 L392.79,108.63 L393.34,107.94 L393.89,107.25 L394.45,106.57 L395.00,105.90 L395.55,105.23 L396.10,104.56 L396.65,103.90 L397.20,103.25 L397.75,102.60 L398.30,101.96 L398.85,101.32 L399.40,100.69 L399.95,100.07 L400.50,99.45 L401.05,98.83 L401.61,98.22 L402.16,97.62" class="solidT"/>
<path d="M402.16,97.62 L402.71,97.03 L403.26,96.43 L403.81,95.85 L404.36,95.27 L404.91,94.70 L405.46,94.13 L406.01,93.57 L406.56,93.01 L407.11,92.46 L407.66,91.92 L408.21,91.38 L408.76,90.84 L409.32,90.32 L409.87,89.80 L410.42,89.28 L410.97,88.77 L411.52,88.27 L412.07,87.77 L412.62,87.28" class="solidt"/>
<path d="M412.62,87.28 L413.17,86.79 L413.72,86.31 L414.27,85.84 L414.82,85.37 L415.37,84.91 L415.92,84.45 L416.48,84.00 L417.03,83.55 L417.58,83.12 L418.13,82.68 L418.68,82.26 L419.23,81.84 L419.78,81.42 L420.33,81.01 L420.88,80.61 L421.43,80.21 L421.98,79.82 L422.53,79.44 L423.08,79.06 L423.63,78.68 L424.19,78.32 L424.74,77.96 L425.29,77.60 L425.84,77.25 L426.39,76.91 L426.94,76.57 L427.49,76.24 L428.04,75.92 L428.59,75.60 L429.14,75.28 L429.69,74.98 L430.24,74.68 L430.79,74.38 L431.35,74.09 L431.90,73.81 L432.45,73.53 L433.00,73.26 L433.55,73.00 L434.10,72.74 L434.65,72.49 L435.20,72.24 L435.75,72.00 L436.30,71.77 L436.85,71.54 L437.40,71.31 L437.95,71.10 L438.51,70.89 L439.06,70.68 L439.61,70.49 L440.16,70.29 L440.71,70.11 L441.26,69.93 L441.81,69.75 L442.36,69.59 L442.91,69.42 L443.46,69.27 L444.01,69.12 L444.56,68.98 L445.11,68.84 L445.66,68.71 L446.22,68.58 L446.77,68.46 L447.32,68.35 L447.87,68.24 L448.42,68.14 L448.97,68.05 L449.52,67.96 L450.07,67.87 L450.62,67.80 L451.17,67.73 L451.72,67.66 L452.27,67.60 L452.82,67.55 L453.38,67.50 L453.93,67.46 L454.48,67.43 L455.03,67.40 L455.58,67.38 L456.13,67.36 L456.68,67.35 L457.23,67.35 L457.78,67.35 L458.33,67.36 L458.88,67.37 L459.43,67.39 L459.98,67.42 L460.54,67.45 L461.09,67.49 L461.64,67.53 L462.19,67.58 L462.74,67.64 L463.29,67.70 L463.84,67.77 L464.39,67.84 L464.94,67.92 L465.49,68.01 L466.04,68.10 L466.59,68.20 L467.14,68.30 L467.69,68.41 L468.25,68.53 L468.80,68.65 L469.35,68.78 L469.90,68.91 L470.45,69.05 L471.00,69.20 L471.55,69.35 L472.10,69.50 L472.65,69.67 L473.20,69.84 L473.75,70.01 L474.30,70.19 L474.85,70.38 L475.41,70.58 L475.96,70.77 L476.51,70.98 L477.06,71.19 L477.61,71.41 L478.16,71.63 L478.71,71.86 L479.26,72.09 L479.81,72.33 L480.36,72.58 L480.91,72.83 L481.46,73.09 L482.01,73.35 L482.57,73.62 L483.12,73.90 L483.67,74.18 L484.22,74.47 L484.77,74.76 L485.32,75.06 L485.87,75.36 L486.42,75.67 L486.97,75.99 L487.52,76.31 L488.07,76.64 L488.62,76.97 L489.17,77.31 L489.72,77.66 L490.28,78.01 L490.83,78.37 L491.38,78.73 L491.93,79.10 L492.48,79.47 L493.03,79.85 L493.58,80.24 L494.13,80.63 L494.68,81.02 L495.23,81.43 L495.78,81.84 L496.33,82.25 L496.88,82.67 L497.44,83.09 L497.99,83.52 L498.54,83.96 L499.09,84.40 L499.64,84.85 L500.19,85.31 L500.74,85.76 L501.29,86.23 L501.84,86.70 L502.39,87.18 L502.94,87.66 L503.49,88.14" class="solidT"/>
<path d="M503.49,88.14 L504.04,88.64 L504.60,89.13 L505.15,89.64 L505.70,90.15 L506.25,90.66 L506.80,91.18 L507.35,91.71 L507.90,92.24 L508.45,92.78 L509.00,93.32 L509.55,93.87 L510.10,94.42 L510.65,94.98 L511.20,95.55 L511.75,96.12 L512.31,96.69 L512.86,97.27 L513.41,97.86 L513.96,98.45 L514.51,99.05" class="solidt"/>
<path d="M514.51,99.05 L515.06,99.65 L515.61,100.26 L516.16,100.87 L516.71,101.49 L517.26,102.11 L517.81,102.74 L518.36,103.38 L518.91,104.02 L519.47,104.66 L520.02,105.31 L520.57,105.97 L521.12,106.63 L521.67,107.30 L522.22,107.97 L522.77,108.65 L523.32,109.33 L523.87,110.02 L524.42,110.71 L524.97,111.41 L525.52,112.11 L526.07,112.82 L526.63,113.53 L527.18,114.25 L527.73,114.98 L528.28,115.71 L528.83,116.44 L529.38,117.18 L529.93,117.93 L530.48,118.68 L531.03,119.43 L531.58,120.19 L532.13,120.96 L532.68,121.73 L533.23,122.50 L533.78,123.28 L534.34,124.07 L534.89,124.86 L535.44,125.66 L535.99,126.46 L536.54,127.26 L537.09,128.08 L537.64,128.89 L538.19,129.71 L538.74,130.54 L539.29,131.37 L539.84,132.21 L540.39,133.05 L540.94,133.89 L541.50,134.74 L542.05,135.60 L542.60,136.46 L543.15,137.33 L543.70,138.20 L544.25,139.07 L544.80,139.95" class="solidT"/>
<path d="M318.5,22.5 H550.5 V254.5 H318.5 Z" class="box"/>
<line x1="319.0" x2="323.0" y1="28.50" y2="28.50" class="ytick"/>
<text transform="translate(315.30 28.75) scale(1.12 1) rotate(-90)" class="yl">2.05</text>
<line x1="319.0" x2="323.0" y1="81.50" y2="81.50" class="ytick"/>
<text transform="translate(315.30 81.25) scale(1.12 1) rotate(-90)" class="yl">2.00</text>
<line x1="319.0" x2="323.0" y1="133.50" y2="133.50" class="ytick"/>
<text transform="translate(315.30 133.75) scale(1.12 1) rotate(-90)" class="yl">1.95</text>
<line x1="319.0" x2="323.0" y1="186.50" y2="186.50" class="ytick"/>
<text transform="translate(315.30 186.25) scale(1.12 1) rotate(-90)" class="yl">1.90</text>
<line x1="319.0" x2="323.0" y1="238.50" y2="238.50" class="ytick"/>
<text transform="translate(315.30 238.75) scale(1.12 1) rotate(-90)" class="yl">1.85</text>
<line x1="324.50" x2="324.50" y1="254.0" y2="250.5" class="xtick"/>
<text x="324.50" y="262.90" class="xl">0</text>
<line x1="335.50" x2="335.50" y1="254.0" y2="250.5" class="xtick"/>
<text x="335.51" y="262.90" class="xl">.05</text>
<line x1="346.50" x2="346.50" y1="254.0" y2="250.5" class="xtick"/>
<text x="346.53" y="262.90" class="xl">.1</text>
<line x1="357.50" x2="357.50" y1="254.0" y2="250.5" class="xtick"/>
<text x="357.55" y="262.90" class="xl">.15</text>
<line x1="368.50" x2="368.50" y1="254.0" y2="250.5" class="xtick"/>
<text x="368.56" y="262.90" class="xl">.2</text>
<line x1="379.50" x2="379.50" y1="254.0" y2="250.5" class="xtick"/>
<text x="379.57" y="262.90" class="xl">.25</text>
<line x1="390.50" x2="390.50" y1="254.0" y2="250.5" class="xtick"/>
<text x="390.59" y="262.90" class="xl">.3</text>
<line x1="401.50" x2="401.50" y1="254.0" y2="250.5" class="xtick"/>
<text x="401.61" y="262.90" class="xl">.35</text>
<line x1="412.50" x2="412.50" y1="254.0" y2="250.5" class="xtick"/>
<text x="412.62" y="262.90" class="xl">.4</text>
<line x1="423.50" x2="423.50" y1="254.0" y2="250.5" class="xtick"/>
<text x="423.63" y="262.90" class="xl">.45</text>
<line x1="434.50" x2="434.50" y1="254.0" y2="250.5" class="xtick"/>
<text x="434.65" y="262.90" class="xl">.5</text>
<line x1="445.50" x2="445.50" y1="254.0" y2="250.5" class="xtick"/>
<text x="445.66" y="262.90" class="xl">.55</text>
<line x1="456.50" x2="456.50" y1="254.0" y2="250.5" class="xtick"/>
<text x="456.68" y="262.90" class="xl">.6</text>
<line x1="467.50" x2="467.50" y1="254.0" y2="250.5" class="xtick"/>
<text x="467.69" y="262.90" class="xl">.65</text>
<line x1="478.50" x2="478.50" y1="254.0" y2="250.5" class="xtick"/>
<text x="478.71" y="262.90" class="xl">.7</text>
<line x1="489.50" x2="489.50" y1="254.0" y2="250.5" class="xtick"/>
<text x="489.72" y="262.90" class="xl">.75</text>
<line x1="500.50" x2="500.50" y1="254.0" y2="250.5" class="xtick"/>
<text x="500.74" y="262.90" class="xl">.8</text>
<line x1="511.50" x2="511.50" y1="254.0" y2="250.5" class="xtick"/>
<text x="511.75" y="262.90" class="xl">.85</text>
<line x1="522.50" x2="522.50" y1="254.0" y2="250.5" class="xtick"/>
<text x="522.77" y="262.90" class="xl">.9</text>
<line x1="533.50" x2="533.50" y1="254.0" y2="250.5" class="xtick"/>
<text x="533.78" y="262.90" class="xl">.95</text>
<line x1="544.50" x2="544.50" y1="254.0" y2="250.5" class="xtick"/>
<text x="544.80" y="262.90" class="xl">1</text>
<text x="434.50" y="270.70" class="xl">Forbidden triads density</text>
<text transform="translate(306.70 138.50) scale(1.12 1) rotate(-90)" class="yl">Predicted number of releases</text>
<text x="297.70" y="15.20" class="letter">b</text>
<path d="M23.50,462.25 L24.05,461.31 L24.61,460.36 L25.16,459.40 L25.71,458.43 L26.26,457.46 L26.82,456.49 L27.37,455.51 L27.92,454.52 L28.47,453.53 L29.02,452.53 L29.58,451.53 L30.13,450.53 L30.68,449.52 L31.23,448.50 L31.79,447.48 L32.34,446.46 L32.89,445.44 L33.45,444.41 L34.00,443.38 L34.55,442.34 L35.10,441.30 L35.66,440.26 L36.21,439.22 L36.76,438.18 L37.31,437.13 L37.87,436.08 L38.42,435.03 L38.97,433.98 L39.52,432.92 L40.08,431.87 L40.63,430.81 L41.18,429.76 L41.73,428.70 L42.28,427.64 L42.84,426.59 L43.39,425.53 L43.94,424.47 L44.50,423.41 L45.05,422.35 L45.60,421.30 L46.15,420.24 L46.70,419.18 L47.26,418.13 L47.81,417.07 L48.36,416.02 L48.92,414.97 L49.47,413.92 L50.02,412.87 L50.57,411.82 L51.12,410.77 L51.68,409.73 L52.23,408.69 L52.78,407.65 L53.34,406.61 L53.89,405.57 L54.44,404.54 L54.99,403.51 L55.54,402.49 L56.10,401.46 L56.65,400.44 L57.20,399.42 L57.76,398.41 L58.31,397.40 L58.86,396.39 L59.41,395.38 L59.97,394.38 L60.52,393.38 L61.07,392.39 L61.62,391.40 L62.18,390.42 L62.73,389.44 L63.28,388.46 L63.83,387.49 L64.38,386.52 L64.94,385.55 L65.49,384.60 L66.04,383.64 L66.59,382.69 L67.15,381.75 L67.70,380.81 L68.25,379.87 L68.81,378.94 L69.36,378.02 L69.91,377.10 L70.46,376.19 L71.02,375.28 L71.57,374.38 L72.12,373.48 L72.67,372.59 L73.22,371.70 L73.78,370.82 L74.33,369.95 L74.88,369.08 L75.44,368.22 L75.99,367.36 L76.54,366.51 L77.09,365.67 L77.64,364.83 L78.20,364.00 L78.75,363.17 L79.30,362.35 L79.86,361.54 L80.41,360.73 L80.96,359.93 L81.51,359.14 L82.06,358.35 L82.62,357.57 L83.17,356.80 L83.72,356.03 L84.28,355.27 L84.83,354.52 L85.38,353.78 L85.93,353.04 L86.49,352.30 L87.04,351.58 L87.59,350.86 L88.14,350.15 L88.69,349.45 L89.25,348.75 L89.80,348.06 L90.35,347.38 L90.91,346.70 L91.46,346.03 L92.01,345.37 L92.56,344.72 L93.11,344.07 L93.67,343.44 L94.22,342.80 L94.77,342.18 L95.33,341.56 L95.88,340.95 L96.43,340.35 L96.98,339.76 L97.54,339.17 L98.09,338.59 L98.64,338.02 L99.19,337.45 L99.75,336.90 L100.30,336.35 L100.85,335.80 L101.40,335.27 L101.95,334.74 L102.51,334.22 L103.06,333.71 L103.61,333.21 L104.16,332.71 L104.72,332.22 L105.27,331.74 L105.82,331.27 L106.38,330.80 L106.93,330.34 L107.48,329.89 L108.03,329.44 L108.59,329.01 L109.14,328.58 L109.69,328.16 L110.24,327.74 L110.80,327.34 L111.35,326.94 L111.90,326.55 L112.45,326.16 L113.01,325.79 L113.56,325.42 L114.11,325.06 L114.66,324.70 L115.22,324.36 L115.77,324.02 L116.32,323.69 L116.87,323.36 L117.42,323.04 L117.98,322.73 L118.53,322.43 L119.08,322.14 L119.64,321.85 L120.19,321.57 L120.74,321.30 L121.29,321.03 L121.84,320.77 L122.40,320.52 L122.95,320.28 L123.50,320.04 L124.06,319.81 L124.61,319.59 L125.16,319.37 L125.71,319.16 L126.27,318.96 L126.82,318.76" class="dasht" stroke-dashoffset="0.00"/>
<path d="M126.82,318.76 L127.37,318.58 L127.92,318.40 L128.48,318.22 L129.03,318.05 L129.58,317.89 L130.13,317.74 L130.69,317.59 L131.24,317.45 L131.79,317.32 L132.34,317.19 L132.89,317.07 L133.45,316.96 L134.00,316.85 L134.55,316.75 L135.11,316.66 L135.66,316.57 L136.21,316.49 L136.76,316.42 L137.31,316.35 L137.87,316.29 L138.42,316.23 L138.97,316.18 L139.53,316.14 L140.08,316.10 L140.63,316.07 L141.18,316.05 L141.74,316.03 L142.29,316.01 L142.84,316.01 L143.39,316.01 L143.94,316.01 L144.50,316.02 L145.05,316.04 L145.60,316.06 L146.16,316.09 L146.71,316.12 L147.26,316.16 L147.81,316.21 L148.37,316.26 L148.92,316.32 L149.47,316.38 L150.02,316.44 L150.58,316.52 L151.13,316.59 L151.68,316.68 L152.23,316.77 L152.78,316.86 L153.34,316.96 L153.89,317.06 L154.44,317.17 L155.00,317.28 L155.55,317.40 L156.10,317.52 L156.65,317.65 L157.20,317.79 L157.76,317.92 L158.31,318.07 L158.86,318.21 L159.41,318.37 L159.97,318.52 L160.52,318.68 L161.07,318.85 L161.62,319.02 L162.18,319.19 L162.73,319.37 L163.28,319.55 L163.84,319.74" class="dashT" stroke-dashoffset="180.04"/>
<path d="M163.84,319.74 L164.39,319.93 L164.94,320.13 L165.49,320.33 L166.05,320.53 L166.60,320.74 L167.15,320.95 L167.70,321.16 L168.25,321.38 L168.81,321.61 L169.36,321.83 L169.91,322.06 L170.47,322.30 L171.02,322.54 L171.57,322.78 L172.12,323.02 L172.68,323.27 L173.23,323.52 L173.78,323.78 L174.33,324.04 L174.89,324.30 L175.44,324.56 L175.99,324.83 L176.54,325.10 L177.10,325.38 L177.65,325.66 L178.20,325.94 L178.75,326.22 L179.30,326.51 L179.86,326.80 L180.41,327.09 L180.96,327.38 L181.51,327.68 L182.07,327.98 L182.62,328.29 L183.17,328.59 L183.72,328.90 L184.28,329.21 L184.83,329.52 L185.38,329.84 L185.94,330.16 L186.49,330.48 L187.04,330.80 L187.59,331.13 L188.15,331.46 L188.70,331.79 L189.25,332.12 L189.80,332.45 L190.35,332.79 L190.91,333.13 L191.46,333.47 L192.01,333.81 L192.56,334.15 L193.12,334.50 L193.67,334.85 L194.22,335.20 L194.78,335.55 L195.33,335.90 L195.88,336.26 L196.43,336.61 L196.99,336.97 L197.54,337.33 L198.09,337.70 L198.64,338.06 L199.20,338.42 L199.75,338.79 L200.30,339.16 L200.85,339.53 L201.41,339.90 L201.96,340.27 L202.51,340.64 L203.06,341.02 L203.62,341.40 L204.17,341.77 L204.72,342.15 L205.27,342.53 L205.83,342.91 L206.38,343.30 L206.93,343.68 L207.48,344.06 L208.03,344.45 L208.59,344.84 L209.14,345.22 L209.69,345.61 L210.25,346.00 L210.80,346.40 L211.35,346.79 L211.90,347.18 L212.45,347.57 L213.01,347.97 L213.56,348.37 L214.11,348.76 L214.66,349.16 L215.22,349.56 L215.77,349.96 L216.32,350.36 L216.88,350.76 L217.43,351.16 L217.98,351.57 L218.53,351.97 L219.09,352.38 L219.64,352.78 L220.19,353.19 L220.74,353.60 L221.30,354.00 L221.85,354.41 L222.40,354.82 L222.95,355.23 L223.50,355.65 L224.06,356.06 L224.61,356.47 L225.16,356.89 L225.72,357.30 L226.27,357.72 L226.82,358.13 L227.37,358.55 L227.93,358.97 L228.48,359.39 L229.03,359.81 L229.58,360.23 L230.14,360.65 L230.69,361.07 L231.24,361.50 L231.79,361.92 L232.35,362.35 L232.90,362.78 L233.45,363.20 L234.00,363.63 L234.56,364.06 L235.11,364.49 L235.66,364.92 L236.21,365.36 L236.76,365.79 L237.32,366.23 L237.87,366.66 L238.42,367.10 L238.97,367.54 L239.53,367.98 L240.08,368.42 L240.63,368.86 L241.19,369.31 L241.74,369.75 L242.29,370.20 L242.84,370.65 L243.40,371.10 L243.95,371.55 L244.50,372.00" class="dasht" stroke-dashoffset="217.80"/>
<path d="M23.50,489.65 L24.05,488.44 L24.61,487.25 L25.16,486.07 L25.71,484.91 L26.26,483.76 L26.82,482.62 L27.37,481.50 L27.92,480.39 L28.47,479.30 L29.02,478.22 L29.58,477.15 L30.13,476.10 L30.68,475.06 L31.23,474.03 L31.79,473.01 L32.34,472.01 L32.89,471.01 L33.45,470.03 L34.00,469.07 L34.55,468.11 L35.10,467.17 L35.66,466.23 L36.21,465.31 L36.76,464.40 L37.31,463.50 L37.87,462.61 L38.42,461.73 L38.97,460.86 L39.52,460.00 L40.08,459.16 L40.63,458.32 L41.18,457.49 L41.73,456.67 L42.28,455.87 L42.84,455.07 L43.39,454.28 L43.94,453.50 L44.50,452.73 L45.05,451.96 L45.60,451.21 L46.15,450.46 L46.70,449.73 L47.26,449.00 L47.81,448.28 L48.36,447.57 L48.92,446.87 L49.47,446.17 L50.02,445.49 L50.57,444.81 L51.12,444.13 L51.68,443.47 L52.23,442.81 L52.78,442.16 L53.34,441.52 L53.89,440.89 L54.44,440.26 L54.99,439.64 L55.54,439.02 L56.10,438.41 L56.65,437.81 L57.20,437.22 L57.76,436.63 L58.31,436.05 L58.86,435.47 L59.41,434.90 L59.97,434.34 L60.52,433.78 L61.07,433.23 L61.62,432.69 L62.18,432.15 L62.73,431.61 L63.28,431.09 L63.83,430.56 L64.38,430.05 L64.94,429.53 L65.49,429.03 L66.04,428.53 L66.59,428.03 L67.15,427.54 L67.70,427.05 L68.25,426.57 L68.81,426.09 L69.36,425.62 L69.91,425.16 L70.46,424.69 L71.02,424.24 L71.57,423.78 L72.12,423.33 L72.67,422.89 L73.22,422.45 L73.78,422.02 L74.33,421.59 L74.88,421.16 L75.44,420.74 L75.99,420.32 L76.54,419.91 L77.09,419.50 L77.64,419.09 L78.20,418.69 L78.75,418.29 L79.30,417.90 L79.86,417.51 L80.41,417.12 L80.96,416.74 L81.51,416.36 L82.06,415.98 L82.62,415.61 L83.17,415.25 L83.72,414.88 L84.28,414.52 L84.83,414.16 L85.38,413.81 L85.93,413.46 L86.49,413.12 L87.04,412.77 L87.59,412.43 L88.14,412.10 L88.69,411.76 L89.25,411.44 L89.80,411.11 L90.35,410.79 L90.91,410.47 L91.46,410.15 L92.01,409.84 L92.56,409.53 L93.11,409.22 L93.67,408.92 L94.22,408.62 L94.77,408.33 L95.33,408.03 L95.88,407.74 L96.43,407.46 L96.98,407.17 L97.54,406.89 L98.09,406.62 L98.64,406.34 L99.19,406.07 L99.75,405.80 L100.30,405.54 L100.85,405.28 L101.40,405.02 L101.95,404.76 L102.51,404.51 L103.06,404.26 L103.61,404.02 L104.16,403.77 L104.72,403.54 L105.27,403.30 L105.82,403.07 L106.38,402.84 L106.93,402.61 L107.48,402.39 L108.03,402.17 L108.59,401.95 L109.14,401.74 L109.69,401.53 L110.24,401.32 L110.80,401.11 L111.35,400.91 L111.90,400.72 L112.45,400.52 L113.01,400.33" class="dasht" stroke-dashoffset="0.00"/>
<path d="M113.01,400.33 L113.56,400.14 L114.11,399.96 L114.66,399.78 L115.22,399.60 L115.77,399.43 L116.32,399.26 L116.87,399.09 L117.42,398.93 L117.98,398.77 L118.53,398.61 L119.08,398.46 L119.64,398.31 L120.19,398.16 L120.74,398.02 L121.29,397.88 L121.84,397.74 L122.40,397.61 L122.95,397.49 L123.50,397.36 L124.06,397.24 L124.61,397.12 L125.16,397.01 L125.71,396.90 L126.27,396.80 L126.82,396.70 L127.37,396.60 L127.92,396.51 L128.48,396.42 L129.03,396.33 L129.58,396.25 L130.13,396.17 L130.69,396.10 L131.24,396.03 L131.79,395.97 L132.34,395.91 L132.89,395.85 L133.45,395.80 L134.00,395.75 L134.55,395.71 L135.11,395.67 L135.66,395.63 L136.21,395.60 L136.76,395.58 L137.31,395.56 L137.87,395.54 L138.42,395.53 L138.97,395.52 L139.53,395.52 L140.08,395.52 L140.63,395.53 L141.18,395.54 L141.74,395.55 L142.29,395.58 L142.84,395.60 L143.39,395.63 L143.94,395.67 L144.50,395.71 L145.05,395.76 L145.60,395.81 L146.16,395.86 L146.71,395.92 L147.26,395.99 L147.81,396.06 L148.37,396.14 L148.92,396.22 L149.47,396.31 L150.02,396.40 L150.58,396.50 L151.13,396.61 L151.68,396.72 L152.23,396.83 L152.78,396.95 L153.34,397.08 L153.89,397.21 L154.44,397.35 L155.00,397.49 L155.55,397.64 L156.10,397.80 L156.65,397.96 L157.20,398.13 L157.76,398.30 L158.31,398.48 L158.86,398.67" class="dashT" stroke-dashoffset="130.15"/>
<path d="M158.86,398.67 L159.41,398.86 L159.97,399.06 L160.52,399.26 L161.07,399.47 L161.62,399.69 L162.18,399.91 L162.73,400.14 L163.28,400.37 L163.84,400.62 L164.39,400.86 L164.94,401.12 L165.49,401.38 L166.05,401.65 L166.60,401.92 L167.15,402.21 L167.70,402.49 L168.25,402.79 L168.81,403.09 L169.36,403.40 L169.91,403.72 L170.47,404.04 L171.02,404.37 L171.57,404.70 L172.12,405.05 L172.68,405.40 L173.23,405.76 L173.78,406.12 L174.33,406.49 L174.89,406.87 L175.44,407.26 L175.99,407.65 L176.54,408.05 L177.10,408.46 L177.65,408.88 L178.20,409.30 L178.75,409.73 L179.30,410.17 L179.86,410.62 L180.41,411.07 L180.96,411.53 L181.51,412.00 L182.07,412.48 L182.62,412.96 L183.17,413.45 L183.72,413.95 L184.28,414.46 L184.83,414.98 L185.38,415.50 L185.94,416.03 L186.49,416.57 L187.04,417.12 L187.59,417.67 L188.15,418.24 L188.70,418.81 L189.25,419.39 L189.80,419.98 L190.35,420.57 L190.91,421.17 L191.46,421.79 L192.01,422.41 L192.56,423.04 L193.12,423.67 L193.67,424.32 L194.22,424.97 L194.78,425.63 L195.33,426.30 L195.88,426.98 L196.43,427.67 L196.99,428.36 L197.54,429.07 L198.09,429.78 L198.64,430.50 L199.20,431.23 L199.75,431.96 L200.30,432.71 L200.85,433.46 L201.41,434.23 L201.96,435.00 L202.51,435.78 L203.06,436.57 L203.62,437.37 L204.17,438.17 L204.72,438.99 L205.27,439.81 L205.83,440.64 L206.38,441.48 L206.93,442.33 L207.48,443.19 L208.03,444.06 L208.59,444.93 L209.14,445.81 L209.69,446.71 L210.25,447.61 L210.80,448.52 L211.35,449.44 L211.90,450.36 L212.45,451.30 L213.01,452.25 L213.56,453.20 L214.11,454.16 L214.66,455.13 L215.22,456.11 L215.77,457.10 L216.32,458.10 L216.88,459.10 L217.43,460.12 L217.98,461.14 L218.53,462.17 L219.09,463.21 L219.64,464.26 L220.19,465.32 L220.74,466.38 L221.30,467.46 L221.85,468.54 L222.40,469.63 L222.95,470.73 L223.50,471.84 L224.06,472.96 L224.61,474.08 L225.16,475.22 L225.72,476.36 L226.27,477.51 L226.82,478.67 L227.37,479.84 L227.93,481.02 L228.48,482.20 L229.03,483.39 L229.58,484.59 L230.14,485.80" class="dasht" stroke-dashoffset="176.91"/>
<path d="M230.14,485.80 L230.69,487.02 L231.24,488.24 L231.79,489.48 L232.35,490.72 L232.90,491.97 L233.45,493.23 L234.00,494.49 L234.56,495.77 L235.11,497.05 L235.66,498.34 L236.21,499.63 L236.76,500.94 L237.32,502.25 L237.87,503.57 L238.42,504.90 L238.97,506.23 L239.53,507.58 L240.08,508.93 L240.63,510.29 L241.19,511.65 L241.74,513.02 L242.29,514.40 L242.84,515.79 L243.40,517.18 L243.95,518.59 L244.50,519.99" class="dashT" stroke-dashoffset="292.38"/>
<path d="M23.50,475.76 L24.05,474.75 L24.61,473.74 L25.16,472.73 L25.71,471.72 L26.26,470.72 L26.82,469.71 L27.37,468.71 L27.92,467.71 L28.47,466.72 L29.02,465.72 L29.58,464.73 L30.13,463.74 L30.68,462.75 L31.23,461.76 L31.79,460.78 L32.34,459.80 L32.89,458.82 L33.45,457.84 L34.00,456.87 L34.55,455.90 L35.10,454.93 L35.66,453.96 L36.21,453.00 L36.76,452.04 L37.31,451.08 L37.87,450.13 L38.42,449.18 L38.97,448.23 L39.52,447.29 L40.08,446.35 L40.63,445.41 L41.18,444.47 L41.73,443.54 L42.28,442.61 L42.84,441.69 L43.39,440.77 L43.94,439.85 L44.50,438.94 L45.05,438.03 L45.60,437.12 L46.15,436.22 L46.70,435.32 L47.26,434.42 L47.81,433.53 L48.36,432.64 L48.92,431.76 L49.47,430.88 L50.02,430.00 L50.57,429.13 L51.12,428.27 L51.68,427.40 L52.23,426.54 L52.78,425.69 L53.34,424.84 L53.89,423.99 L54.44,423.15 L54.99,422.31 L55.54,421.47 L56.10,420.64 L56.65,419.82 L57.20,419.00 L57.76,418.18 L58.31,417.37 L58.86,416.56 L59.41,415.76 L59.97,414.96 L60.52,414.17 L61.07,413.38 L61.62,412.60 L62.18,411.82 L62.73,411.04 L63.28,410.27 L63.83,409.51 L64.38,408.75 L64.94,407.99 L65.49,407.24 L66.04,406.50 L66.59,405.76 L67.15,405.02 L67.70,404.29 L68.25,403.57 L68.81,402.84 L69.36,402.13 L69.91,401.42 L70.46,400.71 L71.02,400.01 L71.57,399.32 L72.12,398.63 L72.67,397.94 L73.22,397.26 L73.78,396.59 L74.33,395.92 L74.88,395.26 L75.44,394.60 L75.99,393.94 L76.54,393.29 L77.09,392.65 L77.64,392.01 L78.20,391.38 L78.75,390.75 L79.30,390.13 L79.86,389.52 L80.41,388.91 L80.96,388.30" class="solidT"/>
<path d="M80.96,388.30 L81.51,387.70 L82.06,387.11 L82.62,386.52 L83.17,385.93 L83.72,385.35 L84.28,384.78 L84.83,384.21 L85.38,383.65 L85.93,383.10 L86.49,382.55 L87.04,382.00 L87.59,381.46 L88.14,380.93 L88.69,380.40 L89.25,379.88 L89.80,379.36 L90.35,378.85 L90.91,378.34 L91.46,377.84 L92.01,377.34 L92.56,376.86" class="solidt"/>
<path d="M92.56,376.86 L93.11,376.37 L93.67,375.89 L94.22,375.42 L94.77,374.95 L95.33,374.49 L95.88,374.04 L96.43,373.59 L96.98,373.14 L97.54,372.70 L98.09,372.27 L98.64,371.84 L99.19,371.42 L99.75,371.01 L100.30,370.60 L100.85,370.19 L101.40,369.79 L101.95,369.40 L102.51,369.01 L103.06,368.63 L103.61,368.25 L104.16,367.88 L104.72,367.52 L105.27,367.16 L105.82,366.80 L106.38,366.46 L106.93,366.11 L107.48,365.78 L108.03,365.45 L108.59,365.12 L109.14,364.80 L109.69,364.49 L110.24,364.18 L110.80,363.88 L111.35,363.58 L111.90,363.29 L112.45,363.01 L113.01,362.73 L113.56,362.45 L114.11,362.18 L114.66,361.92 L115.22,361.66 L115.77,361.41 L116.32,361.17 L116.87,360.93 L117.42,360.69 L117.98,360.46 L118.53,360.24 L119.08,360.02 L119.64,359.81 L120.19,359.60 L120.74,359.40 L121.29,359.21 L121.84,359.02 L122.40,358.83 L122.95,358.65 L123.50,358.48 L124.06,358.31 L124.61,358.15 L125.16,358.00 L125.71,357.85 L126.27,357.70 L126.82,357.56 L127.37,357.43 L127.92,357.30 L128.48,357.18 L129.03,357.06 L129.58,356.95 L130.13,356.84 L130.69,356.74 L131.24,356.65 L131.79,356.56 L132.34,356.47 L132.89,356.39 L133.45,356.32 L134.00,356.25 L134.55,356.19 L135.11,356.13 L135.66,356.08 L136.21,356.03 L136.76,355.99 L137.31,355.96 L137.87,355.93 L138.42,355.90 L138.97,355.88 L139.53,355.87 L140.08,355.86 L140.63,355.86 L141.18,355.86 L141.74,355.87 L142.29,355.88 L142.84,355.90 L143.39,355.92 L143.94,355.95 L144.50,355.99 L145.05,356.03 L145.60,356.07 L146.16,356.12 L146.71,356.18 L147.26,356.24 L147.81,356.30 L148.37,356.37 L148.92,356.45 L149.47,356.53 L150.02,356.62 L150.58,356.71 L151.13,356.81 L151.68,356.91 L152.23,357.02 L152.78,357.13 L153.34,357.25 L153.89,357.37 L154.44,357.50 L155.00,357.63 L155.55,357.77 L156.10,357.91 L156.65,358.06 L157.20,358.22 L157.76,358.38 L158.31,358.54 L158.86,358.71 L159.41,358.88 L159.97,359.06 L160.52,359.25 L161.07,359.44 L161.62,359.63 L162.18,359.83 L162.73,360.03 L163.28,360.24 L163.84,360.46 L164.39,360.68 L164.94,360.90 L165.49,361.13 L166.05,361.37 L166.60,361.61 L167.15,361.85 L167.70,362.10 L168.25,362.36 L168.81,362.62 L169.36,362.88 L169.91,363.15 L170.47,363.42 L171.02,363.70 L171.57,363.99 L172.12,364.28 L172.68,364.57 L173.23,364.87 L173.78,365.17 L174.33,365.48 L174.89,365.80 L175.44,366.12 L175.99,366.44 L176.54,366.77 L177.10,367.10 L177.65,367.44 L178.20,367.78 L178.75,368.13 L179.30,368.48 L179.86,368.84 L180.41,369.21 L180.96,369.57 L181.51,369.95 L182.07,370.32 L182.62,370.71 L183.17,371.09 L183.72,371.48 L184.28,371.88 L184.83,372.28 L185.38,372.69 L185.94,373.10 L186.49,373.52 L187.04,373.94 L187.59,374.36 L188.15,374.80 L188.70,375.23 L189.25,375.67 L189.80,376.12 L190.35,376.57 L190.91,377.02 L191.46,377.48 L192.01,377.95 L192.56,378.42 L193.12,378.89 L193.67,379.37 L194.22,379.86 L194.78,380.35 L195.33,380.84 L195.88,381.34 L196.43,381.84 L196.99,382.35 L197.54,382.87 L198.09,383.39 L198.64,383.91 L199.20,384.44 L199.75,384.97 L200.30,385.51 L200.85,386.05 L201.41,386.60 L201.96,387.15 L202.51,387.71 L203.06,388.28 L203.62,388.84 L204.17,389.42 L204.72,390.00 L205.27,390.58 L205.83,391.17 L206.38,391.76 L206.93,392.36 L207.48,392.96 L208.03,393.57 L208.59,394.18 L209.14,394.80 L209.69,395.43 L210.25,396.05 L210.80,396.69 L211.35,397.33 L211.90,397.97 L212.45,398.62 L213.01,399.27 L213.56,399.93 L214.11,400.60 L214.66,401.27 L215.22,401.94 L215.77,402.62 L216.32,403.31 L216.88,404.00 L217.43,404.70 L217.98,405.40 L218.53,406.10 L219.09,406.82 L219.64,407.53 L220.19,408.26 L220.74,408.99 L221.30,409.72 L221.85,410.46 L222.40,411.20 L222.95,411.95 L223.50,412.71 L224.06,413.47 L224.61,414.24 L225.16,415.01 L225.72,415.79 L226.27,416.57 L226.82,417.36 L227.37,418.15 L227.93,418.95 L228.48,419.76 L229.03,420.57 L229.58,421.39 L230.14,422.21 L230.69,423.04 L231.24,423.88 L231.79,424.72 L232.35,425.57 L232.90,426.42 L233.45,427.28 L234.00,428.14 L234.56,429.01 L235.11,429.89 L235.66,430.77 L236.21,431.66 L236.76,432.56 L237.32,433.46 L237.87,434.37 L238.42,435.28 L238.97,436.20 L239.53,437.13 L240.08,438.06 L240.63,439.00 L241.19,439.95 L241.74,440.90 L242.29,441.86 L242.84,442.82 L243.40,443.79 L243.95,444.77 L244.50,445.76" class="solidT"/>
<path d="M17.5,541.9 V309.5 H250.5 V541.9" class="box"/><line x1="17.0" x2="251.0" y1="541.9" y2="541.9" class="box"/>
<line x1="18.0" x2="22.0" y1="315.50" y2="315.50" class="ytick"/>
<text transform="translate(14.30 315.70) scale(1.12 1) rotate(-90)" class="yl">1.57</text>
<line x1="18.0" x2="22.0" y1="347.50" y2="347.50" class="ytick"/>
<text transform="translate(14.30 347.21) scale(1.12 1) rotate(-90)" class="yl">1.56</text>
<line x1="18.0" x2="22.0" y1="378.50" y2="378.50" class="ytick"/>
<text transform="translate(14.30 378.72) scale(1.12 1) rotate(-90)" class="yl">1.56</text>
<line x1="18.0" x2="22.0" y1="410.50" y2="410.50" class="ytick"/>
<text transform="translate(14.30 410.23) scale(1.12 1) rotate(-90)" class="yl">1.55</text>
<line x1="18.0" x2="22.0" y1="441.50" y2="441.50" class="ytick"/>
<text transform="translate(14.30 441.74) scale(1.12 1) rotate(-90)" class="yl">1.55</text>
<line x1="18.0" x2="22.0" y1="473.50" y2="473.50" class="ytick"/>
<text transform="translate(14.30 473.25) scale(1.12 1) rotate(-90)" class="yl">1.54</text>
<line x1="18.0" x2="22.0" y1="504.50" y2="504.50" class="ytick"/>
<text transform="translate(14.30 504.76) scale(1.12 1) rotate(-90)" class="yl">1.54</text>
<line x1="18.0" x2="22.0" y1="536.50" y2="536.50" class="ytick"/>
<text transform="translate(14.30 536.27) scale(1.12 1) rotate(-90)" class="yl">1.53</text>
<line x1="23.50" x2="23.50" y1="541.0" y2="537.5" class="xtick"/>
<text x="23.50" y="549.90" class="xl">0</text>
<line x1="34.50" x2="34.50" y1="541.0" y2="537.5" class="xtick"/>
<text x="34.55" y="549.90" class="xl">.05</text>
<line x1="45.50" x2="45.50" y1="541.0" y2="537.5" class="xtick"/>
<text x="45.60" y="549.90" class="xl">.1</text>
<line x1="56.50" x2="56.50" y1="541.0" y2="537.5" class="xtick"/>
<text x="56.65" y="549.90" class="xl">.15</text>
<line x1="67.50" x2="67.50" y1="541.0" y2="537.5" class="xtick"/>
<text x="67.70" y="549.90" class="xl">.2</text>
<line x1="78.50" x2="78.50" y1="541.0" y2="537.5" class="xtick"/>
<text x="78.75" y="549.90" class="xl">.25</text>
<line x1="89.50" x2="89.50" y1="541.0" y2="537.5" class="xtick"/>
<text x="89.80" y="549.90" class="xl">.3</text>
<line x1="100.50" x2="100.50" y1="541.0" y2="537.5" class="xtick"/>
<text x="100.85" y="549.90" class="xl">.35</text>
<line x1="111.50" x2="111.50" y1="541.0" y2="537.5" class="xtick"/>
<text x="111.90" y="549.90" class="xl">.4</text>
<line x1="122.50" x2="122.50" y1="541.0" y2="537.5" class="xtick"/>
<text x="122.95" y="549.90" class="xl">.45</text>
<line x1="134.50" x2="134.50" y1="541.0" y2="537.5" class="xtick"/>
<text x="134.00" y="549.90" class="xl">.5</text>
<line x1="145.50" x2="145.50" y1="541.0" y2="537.5" class="xtick"/>
<text x="145.05" y="549.90" class="xl">.55</text>
<line x1="156.50" x2="156.50" y1="541.0" y2="537.5" class="xtick"/>
<text x="156.10" y="549.90" class="xl">.6</text>
<line x1="167.50" x2="167.50" y1="541.0" y2="537.5" class="xtick"/>
<text x="167.15" y="549.90" class="xl">.65</text>
<line x1="178.50" x2="178.50" y1="541.0" y2="537.5" class="xtick"/>
<text x="178.20" y="549.90" class="xl">.7</text>
<line x1="189.50" x2="189.50" y1="541.0" y2="537.5" class="xtick"/>
<text x="189.25" y="549.90" class="xl">.75</text>
<line x1="200.50" x2="200.50" y1="541.0" y2="537.5" class="xtick"/>
<text x="200.30" y="549.90" class="xl">.8</text>
<line x1="211.50" x2="211.50" y1="541.0" y2="537.5" class="xtick"/>
<text x="211.35" y="549.90" class="xl">.85</text>
<line x1="222.50" x2="222.50" y1="541.0" y2="537.5" class="xtick"/>
<text x="222.40" y="549.90" class="xl">.9</text>
<line x1="233.50" x2="233.50" y1="541.0" y2="537.5" class="xtick"/>
<text x="233.45" y="549.90" class="xl">.95</text>
<line x1="244.50" x2="244.50" y1="541.0" y2="537.5" class="xtick"/>
<text x="244.50" y="549.90" class="xl">1</text>
<text x="134.00" y="557.70" class="xl">Forbidden triads density</text>
<text transform="translate(5.70 425.50) scale(1.12 1) rotate(-90)" class="yl">Predicted number of releases</text>
<text x="0.20" y="301.70" class="letter">c</text>
<path d="M324.50,411.75 L325.05,410.87 L325.60,409.99 L326.15,409.11 L326.70,408.23 L327.26,407.36 L327.81,406.49 L328.36,405.62 L328.91,404.76 L329.46,403.90 L330.01,403.04 L330.56,402.18 L331.12,401.33 L331.67,400.48 L332.22,399.64 L332.77,398.80 L333.32,397.96 L333.87,397.13 L334.42,396.30 L334.97,395.47 L335.52,394.65 L336.08,393.83 L336.63,393.01 L337.18,392.20 L337.73,391.39 L338.28,390.59 L338.83,389.79 L339.38,388.99 L339.94,388.20 L340.49,387.41 L341.04,386.63 L341.59,385.85 L342.14,385.07 L342.69,384.30 L343.24,383.53 L343.79,382.77 L344.35,382.01 L344.90,381.26 L345.45,380.51 L346.00,379.76 L346.55,379.02 L347.10,378.29 L347.65,377.56 L348.20,376.83 L348.75,376.11 L349.31,375.39 L349.86,374.68 L350.41,373.97 L350.96,373.27 L351.51,372.57 L352.06,371.88 L352.61,371.19 L353.17,370.50 L353.72,369.83 L354.27,369.15 L354.82,368.48 L355.37,367.82 L355.92,367.16 L356.47,366.51 L357.02,365.86 L357.57,365.22 L358.13,364.58 L358.68,363.95 L359.23,363.32 L359.78,362.70 L360.33,362.08 L360.88,361.47 L361.43,360.86 L361.99,360.26 L362.54,359.67 L363.09,359.07 L363.64,358.49 L364.19,357.91 L364.74,357.34 L365.29,356.77 L365.84,356.20 L366.39,355.65 L366.95,355.09 L367.50,354.55 L368.05,354.01 L368.60,353.47 L369.15,352.94 L369.70,352.41 L370.25,351.90 L370.81,351.38 L371.36,350.87 L371.91,350.37 L372.46,349.87 L373.01,349.38 L373.56,348.90 L374.11,348.42 L374.66,347.94 L375.22,347.48 L375.77,347.01 L376.32,346.56 L376.87,346.10 L377.42,345.66 L377.97,345.22 L378.52,344.79 L379.07,344.36 L379.62,343.93 L380.18,343.52 L380.73,343.11 L381.28,342.70 L381.83,342.30 L382.38,341.91 L382.93,341.52 L383.48,341.14 L384.04,340.76 L384.59,340.39 L385.14,340.03 L385.69,339.67 L386.24,339.31 L386.79,338.97 L387.34,338.62 L387.89,338.29 L388.44,337.96 L389.00,337.63 L389.55,337.32 L390.10,337.00 L390.65,336.70 L391.20,336.40 L391.75,336.10 L392.30,335.81 L392.86,335.53 L393.41,335.25 L393.96,334.98 L394.51,334.71 L395.06,334.45 L395.61,334.20 L396.16,333.95 L396.71,333.71 L397.26,333.47 L397.82,333.24 L398.37,333.01 L398.92,332.79 L399.47,332.58 L400.02,332.37 L400.57,332.17 L401.12,331.97 L401.68,331.78" class="dasht" stroke-dashoffset="0.00"/>
<path d="M401.68,331.78 L402.23,331.59 L402.78,331.41 L403.33,331.24 L403.88,331.07 L404.43,330.91 L404.98,330.75 L405.53,330.60 L406.08,330.46 L406.64,330.32 L407.19,330.18 L407.74,330.05 L408.29,329.93 L408.84,329.81 L409.39,329.70 L409.94,329.59 L410.50,329.49 L411.05,329.40 L411.60,329.31 L412.15,329.23 L412.70,329.15 L413.25,329.08 L413.80,329.01 L414.35,328.95 L414.90,328.89 L415.46,328.84 L416.01,328.80 L416.56,328.76 L417.11,328.72 L417.66,328.69 L418.21,328.67 L418.76,328.65 L419.31,328.64 L419.87,328.63 L420.42,328.63 L420.97,328.63 L421.52,328.64 L422.07,328.66 L422.62,328.68 L423.17,328.70 L423.73,328.73 L424.28,328.77 L424.83,328.81 L425.38,328.85 L425.93,328.90 L426.48,328.96 L427.03,329.02 L427.58,329.09 L428.13,329.16 L428.69,329.24 L429.24,329.32 L429.79,329.41 L430.34,329.50 L430.89,329.60 L431.44,329.70 L431.99,329.81 L432.55,329.92 L433.10,330.04 L433.65,330.16 L434.20,330.29 L434.75,330.42 L435.30,330.56 L435.85,330.70 L436.40,330.85 L436.95,331.00 L437.51,331.16 L438.06,331.32 L438.61,331.49 L439.16,331.66 L439.71,331.83 L440.26,332.02 L440.81,332.20" class="dashT" stroke-dashoffset="113.14"/>
<path d="M440.81,332.20 L441.37,332.39 L441.92,332.59 L442.47,332.79 L443.02,332.99 L443.57,333.20 L444.12,333.42 L444.67,333.64 L445.22,333.86 L445.77,334.09 L446.33,334.32 L446.88,334.56 L447.43,334.80 L447.98,335.04 L448.53,335.30 L449.08,335.55 L449.63,335.81 L450.19,336.07 L450.74,336.34 L451.29,336.62 L451.84,336.89 L452.39,337.18 L452.94,337.46 L453.49,337.75 L454.04,338.05 L454.60,338.35 L455.15,338.65 L455.70,338.96 L456.25,339.27 L456.80,339.59 L457.35,339.91 L457.90,340.23 L458.45,340.56 L459.00,340.89 L459.56,341.23 L460.11,341.57 L460.66,341.92 L461.21,342.27 L461.76,342.62 L462.31,342.98 L462.86,343.34 L463.41,343.70 L463.97,344.07 L464.52,344.45 L465.07,344.83 L465.62,345.21 L466.17,345.59 L466.72,345.98 L467.27,346.37 L467.83,346.77 L468.38,347.17 L468.93,347.58 L469.48,347.99 L470.03,348.40 L470.58,348.82 L471.13,349.24 L471.68,349.66 L472.24,350.09 L472.79,350.52 L473.34,350.95 L473.89,351.39 L474.44,351.83 L474.99,352.28 L475.54,352.73 L476.09,353.18 L476.64,353.64 L477.20,354.10 L477.75,354.56 L478.30,355.03 L478.85,355.50 L479.40,355.98 L479.95,356.46 L480.50,356.94 L481.05,357.42 L481.61,357.91 L482.16,358.41 L482.71,358.90 L483.26,359.40 L483.81,359.90 L484.36,360.41 L484.91,360.92 L485.47,361.43 L486.02,361.95 L486.57,362.47 L487.12,362.99 L487.67,363.52 L488.22,364.05 L488.77,364.58 L489.32,365.12 L489.88,365.66 L490.43,366.20 L490.98,366.75 L491.53,367.30 L492.08,367.85 L492.63,368.41 L493.18,368.97 L493.73,369.53 L494.28,370.10 L494.84,370.67 L495.39,371.24 L495.94,371.82 L496.49,372.39 L497.04,372.98 L497.59,373.56 L498.14,374.15 L498.70,374.74 L499.25,375.34 L499.80,375.94 L500.35,376.54 L500.90,377.14 L501.45,377.75 L502.00,378.36 L502.55,378.97 L503.11,379.59 L503.66,380.21 L504.21,380.83 L504.76,381.46 L505.31,382.09 L505.86,382.72 L506.41,383.36 L506.96,384.00 L507.51,384.64 L508.07,385.29 L508.62,385.93 L509.17,386.59 L509.72,387.24 L510.27,387.90 L510.82,388.56 L511.37,389.22 L511.92,389.89 L512.48,390.56 L513.03,391.23 L513.58,391.91 L514.13,392.59 L514.68,393.27 L515.23,393.96 L515.78,394.65 L516.34,395.34 L516.89,396.03 L517.44,396.73 L517.99,397.43 L518.54,398.14 L519.09,398.85 L519.64,399.56 L520.19,400.27 L520.75,400.99 L521.30,401.71 L521.85,402.43 L522.40,403.16 L522.95,403.89 L523.50,404.62 L524.05,405.36 L524.60,406.10 L525.15,406.84 L525.71,407.59 L526.26,408.34 L526.81,409.09 L527.36,409.85 L527.91,410.61 L528.46,411.37 L529.01,412.13 L529.57,412.90 L530.12,413.68 L530.67,414.45 L531.22,415.23 L531.77,416.02 L532.32,416.80 L532.87,417.59 L533.42,418.38 L533.98,419.18 L534.53,419.98 L535.08,420.79 L535.63,421.59 L536.18,422.40 L536.73,423.22 L537.28,424.04 L537.83,424.86 L538.38,425.68 L538.94,426.51 L539.49,427.34 L540.04,428.18 L540.59,429.02 L541.14,429.86 L541.69,430.71 L542.24,431.56 L542.79,432.42 L543.35,433.28 L543.90,434.14 L544.45,435.00 L545.00,435.88" class="dasht" stroke-dashoffset="153.03"/>
<path d="M324.50,463.03 L325.05,462.10 L325.60,461.18 L326.15,460.27 L326.70,459.36 L327.26,458.47 L327.81,457.58 L328.36,456.70 L328.91,455.84 L329.46,454.97 L330.01,454.12 L330.56,453.28 L331.12,452.44 L331.67,451.62 L332.22,450.80 L332.77,449.98 L333.32,449.18 L333.87,448.39 L334.42,447.60 L334.97,446.82 L335.52,446.05 L336.08,445.28 L336.63,444.52 L337.18,443.77 L337.73,443.03 L338.28,442.30 L338.83,441.57 L339.38,440.85 L339.94,440.14 L340.49,439.43 L341.04,438.73 L341.59,438.04 L342.14,437.36 L342.69,436.68 L343.24,436.01 L343.79,435.34 L344.35,434.69 L344.90,434.04 L345.45,433.39 L346.00,432.75 L346.55,432.12 L347.10,431.50 L347.65,430.88 L348.20,430.27 L348.75,429.66 L349.31,429.06 L349.86,428.47 L350.41,427.88 L350.96,427.30 L351.51,426.73 L352.06,426.16 L352.61,425.60 L353.17,425.04 L353.72,424.49 L354.27,423.95 L354.82,423.41 L355.37,422.87 L355.92,422.35 L356.47,421.82 L357.02,421.31 L357.57,420.80 L358.13,420.29 L358.68,419.79 L359.23,419.30 L359.78,418.81 L360.33,418.33 L360.88,417.85 L361.43,417.38 L361.99,416.91 L362.54,416.45 L363.09,415.99 L363.64,415.54 L364.19,415.10 L364.74,414.66 L365.29,414.22 L365.84,413.79 L366.39,413.37 L366.95,412.95 L367.50,412.53 L368.05,412.12 L368.60,411.71 L369.15,411.31 L369.70,410.92 L370.25,410.53 L370.81,410.14 L371.36,409.76 L371.91,409.39 L372.46,409.02 L373.01,408.65 L373.56,408.29 L374.11,407.93 L374.66,407.58 L375.22,407.23 L375.77,406.89 L376.32,406.55 L376.87,406.22 L377.42,405.89 L377.97,405.56 L378.52,405.24 L379.07,404.93 L379.62,404.62 L380.18,404.31 L380.73,404.01 L381.28,403.71 L381.83,403.42 L382.38,403.13 L382.93,402.85 L383.48,402.57 L384.04,402.29 L384.59,402.02 L385.14,401.75 L385.69,401.49 L386.24,401.24 L386.79,400.98 L387.34,400.73 L387.89,400.49 L388.44,400.25 L389.00,400.01 L389.55,399.78 L390.10,399.55 L390.65,399.33 L391.20,399.11 L391.75,398.90 L392.30,398.69 L392.86,398.48 L393.41,398.28 L393.96,398.08 L394.51,397.89" class="dasht" stroke-dashoffset="0.00"/>
<path d="M394.51,397.89 L395.06,397.70 L395.61,397.52 L396.16,397.34 L396.71,397.16 L397.26,396.99 L397.82,396.82 L398.37,396.66 L398.92,396.50 L399.47,396.34 L400.02,396.19 L400.57,396.05 L401.12,395.91 L401.68,395.77 L402.23,395.63 L402.78,395.50 L403.33,395.38 L403.88,395.26 L404.43,395.14 L404.98,395.03 L405.53,394.92 L406.08,394.81 L406.64,394.71 L407.19,394.62 L407.74,394.53 L408.29,394.44 L408.84,394.36 L409.39,394.28 L409.94,394.20 L410.50,394.13 L411.05,394.07 L411.60,394.01 L412.15,393.95 L412.70,393.90 L413.25,393.85 L413.80,393.80 L414.35,393.76 L414.90,393.73 L415.46,393.69 L416.01,393.67 L416.56,393.64 L417.11,393.62 L417.66,393.61 L418.21,393.60 L418.76,393.59 L419.31,393.59 L419.87,393.60 L420.42,393.60 L420.97,393.62 L421.52,393.63 L422.07,393.65 L422.62,393.68 L423.17,393.71 L423.73,393.74 L424.28,393.78 L424.83,393.82 L425.38,393.87 L425.93,393.92 L426.48,393.98 L427.03,394.04 L427.58,394.11 L428.13,394.18 L428.69,394.25 L429.24,394.33 L429.79,394.42 L430.34,394.50 L430.89,394.60 L431.44,394.70 L431.99,394.80 L432.55,394.91 L433.10,395.02 L433.65,395.13 L434.20,395.25 L434.75,395.38 L435.30,395.51 L435.85,395.65 L436.40,395.79 L436.95,395.93 L437.51,396.08 L438.06,396.24 L438.61,396.40 L439.16,396.56 L439.71,396.73 L440.26,396.90 L440.81,397.08 L441.37,397.27 L441.92,397.45" class="dashT" stroke-dashoffset="97.60"/>
<path d="M441.92,397.45 L442.47,397.65 L443.02,397.85 L443.57,398.05 L444.12,398.26 L444.67,398.47 L445.22,398.69 L445.77,398.91 L446.33,399.14 L446.88,399.38 L447.43,399.62 L447.98,399.86 L448.53,400.11 L449.08,400.36 L449.63,400.62 L450.19,400.89 L450.74,401.16 L451.29,401.43 L451.84,401.71 L452.39,402.00 L452.94,402.29 L453.49,402.58 L454.04,402.89 L454.60,403.19 L455.15,403.50 L455.70,403.82 L456.25,404.14 L456.80,404.47 L457.35,404.81 L457.90,405.14 L458.45,405.49 L459.00,405.84 L459.56,406.19 L460.11,406.55 L460.66,406.92 L461.21,407.29 L461.76,407.67 L462.31,408.05 L462.86,408.44 L463.41,408.84 L463.97,409.24 L464.52,409.64 L465.07,410.05 L465.62,410.47 L466.17,410.89 L466.72,411.32 L467.27,411.75 L467.83,412.19 L468.38,412.64 L468.93,413.09 L469.48,413.55 L470.03,414.01 L470.58,414.48 L471.13,414.95 L471.68,415.43 L472.24,415.92 L472.79,416.41 L473.34,416.91 L473.89,417.41 L474.44,417.92 L474.99,418.44 L475.54,418.96 L476.09,419.49 L476.64,420.02 L477.20,420.56 L477.75,421.11 L478.30,421.66 L478.85,422.22 L479.40,422.78 L479.95,423.35 L480.50,423.93 L481.05,424.51 L481.61,425.10 L482.16,425.69 L482.71,426.29 L483.26,426.90 L483.81,427.51 L484.36,428.13 L484.91,428.76 L485.47,429.39 L486.02,430.03 L486.57,430.67 L487.12,431.33 L487.67,431.98 L488.22,432.65 L488.77,433.32 L489.32,433.99 L489.88,434.67 L490.43,435.36 L490.98,436.06 L491.53,436.76 L492.08,437.47 L492.63,438.18 L493.18,438.90 L493.73,439.63 L494.28,440.37 L494.84,441.11 L495.39,441.85 L495.94,442.61 L496.49,443.37 L497.04,444.13 L497.59,444.91 L498.14,445.68 L498.70,446.47 L499.25,447.26 L499.80,448.06 L500.35,448.87 L500.90,449.68 L501.45,450.50 L502.00,451.32 L502.55,452.15 L503.11,452.99 L503.66,453.84 L504.21,454.69 L504.76,455.55 L505.31,456.41 L505.86,457.28 L506.41,458.16 L506.96,459.05 L507.51,459.94 L508.07,460.84 L508.62,461.74 L509.17,462.65 L509.72,463.57 L510.27,464.49 L510.82,465.43 L511.37,466.36 L511.92,467.31 L512.48,468.26 L513.03,469.22 L513.58,470.18 L514.13,471.15 L514.68,472.13 L515.23,473.12 L515.78,474.11 L516.34,475.11 L516.89,476.11 L517.44,477.12 L517.99,478.14 L518.54,479.16 L519.09,480.20 L519.64,481.23 L520.19,482.28 L520.75,483.33 L521.30,484.39 L521.85,485.45 L522.40,486.52 L522.95,487.60 L523.50,488.69 L524.05,489.78 L524.60,490.87 L525.15,491.98 L525.71,493.09 L526.26,494.21 L526.81,495.33 L527.36,496.46 L527.91,497.60 L528.46,498.74 L529.01,499.89 L529.57,501.05 L530.12,502.21 L530.67,503.38 L531.22,504.56 L531.77,505.74 L532.32,506.93 L532.87,508.13 L533.42,509.33 L533.98,510.54 L534.53,511.76 L535.08,512.98 L535.63,514.21 L536.18,515.44 L536.73,516.68 L537.28,517.93 L537.83,519.18 L538.38,520.44 L538.94,521.71 L539.49,522.98 L540.04,524.26 L540.59,525.55 L541.14,526.84 L541.69,528.13 L542.24,529.44 L542.79,530.75 L543.35,532.06 L543.90,533.39 L544.45,534.71 L545.00,536.05" class="dasht" stroke-dashoffset="145.93"/>
<path d="M324.50,437.12 L325.05,436.29 L325.60,435.47 L326.15,434.65 L326.70,433.83 L327.26,433.01 L327.81,432.20 L328.36,431.39 L328.91,430.59 L329.46,429.79 L330.01,428.99 L330.56,428.20 L331.12,427.41 L331.67,426.63 L332.22,425.85 L332.77,425.07 L333.32,424.29 L333.87,423.52 L334.42,422.76 L334.97,422.00 L335.52,421.24 L336.08,420.49 L336.63,419.74 L337.18,418.99 L337.73,418.25 L338.28,417.51 L338.83,416.78 L339.38,416.05 L339.94,415.33 L340.49,414.61 L341.04,413.89 L341.59,413.18 L342.14,412.47 L342.69,411.77 L343.24,411.07 L343.79,410.37 L344.35,409.68 L344.90,409.00 L345.45,408.31 L346.00,407.64 L346.55,406.96 L347.10,406.30 L347.65,405.63 L348.20,404.97 L348.75,404.32 L349.31,403.67 L349.86,403.02 L350.41,402.38 L350.96,401.74 L351.51,401.11 L352.06,400.48 L352.61,399.86 L353.17,399.24 L353.72,398.63 L354.27,398.02 L354.82,397.41" class="solidT"/>
<path d="M354.82,397.41 L355.37,396.81 L355.92,396.22 L356.47,395.63 L357.02,395.04 L357.57,394.46 L358.13,393.88 L358.68,393.31 L359.23,392.75 L359.78,392.18 L360.33,391.63 L360.88,391.08 L361.43,390.53 L361.99,389.98 L362.54,389.45 L363.09,388.91 L363.64,388.39 L364.19,387.86 L364.74,387.34 L365.29,386.83 L365.84,386.32 L366.39,385.82 L366.95,385.32 L367.50,384.83 L368.05,384.34" class="solidt"/>
<path d="M368.05,384.34 L368.60,383.85 L369.15,383.37 L369.70,382.90 L370.25,382.43 L370.81,381.97 L371.36,381.51 L371.91,381.05 L372.46,380.60 L373.01,380.16 L373.56,379.72 L374.11,379.29 L374.66,378.86 L375.22,378.43 L375.77,378.01 L376.32,377.60 L376.87,377.19 L377.42,376.79 L377.97,376.39 L378.52,375.99 L379.07,375.60 L379.62,375.22 L380.18,374.84 L380.73,374.47 L381.28,374.10 L381.83,373.74 L382.38,373.38 L382.93,373.03 L383.48,372.68 L384.04,372.33 L384.59,372.00 L385.14,371.66 L385.69,371.34 L386.24,371.01 L386.79,370.70 L387.34,370.38 L387.89,370.08 L388.44,369.77 L389.00,369.48 L389.55,369.19 L390.10,368.90 L390.65,368.62 L391.20,368.34 L391.75,368.07 L392.30,367.80 L392.86,367.54 L393.41,367.29 L393.96,367.04 L394.51,366.79 L395.06,366.55 L395.61,366.31 L396.16,366.08 L396.71,365.86 L397.26,365.64 L397.82,365.42 L398.37,365.21 L398.92,365.01 L399.47,364.81 L400.02,364.62 L400.57,364.43 L401.12,364.24 L401.68,364.06 L402.23,363.89 L402.78,363.72 L403.33,363.56 L403.88,363.40 L404.43,363.25 L404.98,363.10 L405.53,362.96 L406.08,362.82 L406.64,362.69 L407.19,362.56 L407.74,362.44 L408.29,362.32 L408.84,362.21 L409.39,362.10 L409.94,362.00 L410.50,361.90 L411.05,361.81 L411.60,361.72 L412.15,361.64 L412.70,361.56 L413.25,361.49 L413.80,361.43 L414.35,361.37 L414.90,361.31 L415.46,361.26 L416.01,361.21 L416.56,361.17 L417.11,361.14 L417.66,361.11 L418.21,361.08 L418.76,361.06 L419.31,361.04 L419.87,361.03 L420.42,361.03 L420.97,361.03 L421.52,361.03 L422.07,361.04 L422.62,361.06 L423.17,361.08 L423.73,361.10 L424.28,361.13 L424.83,361.17 L425.38,361.21 L425.93,361.25 L426.48,361.30 L427.03,361.36 L427.58,361.42 L428.13,361.48 L428.69,361.55 L429.24,361.63 L429.79,361.71 L430.34,361.79 L430.89,361.88 L431.44,361.98 L431.99,362.08 L432.55,362.18 L433.10,362.29 L433.65,362.41 L434.20,362.53 L434.75,362.65 L435.30,362.78 L435.85,362.92 L436.40,363.06 L436.95,363.20 L437.51,363.35 L438.06,363.51 L438.61,363.67 L439.16,363.83 L439.71,364.00 L440.26,364.17 L440.81,364.35 L441.37,364.54 L441.92,364.73 L442.47,364.92 L443.02,365.12 L443.57,365.32 L444.12,365.53 L444.67,365.74 L445.22,365.96 L445.77,366.18 L446.33,366.41 L446.88,366.65 L447.43,366.88 L447.98,367.13 L448.53,367.37 L449.08,367.63 L449.63,367.88 L450.19,368.14 L450.74,368.41 L451.29,368.68 L451.84,368.96 L452.39,369.24 L452.94,369.53 L453.49,369.82 L454.04,370.11 L454.60,370.41 L455.15,370.72 L455.70,371.03 L456.25,371.34 L456.80,371.66 L457.35,371.99 L457.90,372.32 L458.45,372.65 L459.00,372.99 L459.56,373.34 L460.11,373.68 L460.66,374.04 L461.21,374.40 L461.76,374.76 L462.31,375.13 L462.86,375.50 L463.41,375.88 L463.97,376.26 L464.52,376.65 L465.07,377.04 L465.62,377.43 L466.17,377.83 L466.72,378.24 L467.27,378.65 L467.83,379.07 L468.38,379.49 L468.93,379.91 L469.48,380.34 L470.03,380.78 L470.58,381.22 L471.13,381.66 L471.68,382.11 L472.24,382.56 L472.79,383.02 L473.34,383.48 L473.89,383.95 L474.44,384.42 L474.99,384.90 L475.54,385.38 L476.09,385.87" class="solidT"/>
<path d="M476.09,385.87 L476.64,386.36 L477.20,386.86 L477.75,387.36 L478.30,387.87 L478.85,388.38 L479.40,388.89 L479.95,389.41 L480.50,389.94 L481.05,390.47 L481.61,391.00 L482.16,391.54 L482.71,392.08 L483.26,392.63 L483.81,393.19 L484.36,393.75 L484.91,394.31 L485.47,394.88 L486.02,395.45 L486.57,396.03 L487.12,396.61 L487.67,397.20 L488.22,397.79 L488.77,398.39 L489.32,398.99" class="solidt"/>
<path d="M489.32,398.99 L489.88,399.59 L490.43,400.20 L490.98,400.82 L491.53,401.44 L492.08,402.07 L492.63,402.70 L493.18,403.33 L493.73,403.97 L494.28,404.62 L494.84,405.27 L495.39,405.92 L495.94,406.58 L496.49,407.25 L497.04,407.92 L497.59,408.59 L498.14,409.27 L498.70,409.95 L499.25,410.64 L499.80,411.34 L500.35,412.03 L500.90,412.74 L501.45,413.45 L502.00,414.16 L502.55,414.88 L503.11,415.60 L503.66,416.33 L504.21,417.06 L504.76,417.80 L505.31,418.55 L505.86,419.29 L506.41,420.05 L506.96,420.81 L507.51,421.57 L508.07,422.34 L508.62,423.11 L509.17,423.89 L509.72,424.67 L510.27,425.46 L510.82,426.26 L511.37,427.06 L511.92,427.86 L512.48,428.67 L513.03,429.48 L513.58,430.30 L514.13,431.13 L514.68,431.96 L515.23,432.79 L515.78,433.63 L516.34,434.48 L516.89,435.33 L517.44,436.19 L517.99,437.05 L518.54,437.92 L519.09,438.79 L519.64,439.67 L520.19,440.55 L520.75,441.44 L521.30,442.33 L521.85,443.23 L522.40,444.13 L522.95,445.04 L523.50,445.96 L524.05,446.88 L524.60,447.80 L525.15,448.73 L525.71,449.67 L526.26,450.61 L526.81,451.56 L527.36,452.52 L527.91,453.47 L528.46,454.44 L529.01,455.41 L529.57,456.39 L530.12,457.37 L530.67,458.35 L531.22,459.35 L531.77,460.35 L532.32,461.35 L532.87,462.36 L533.42,463.38 L533.98,464.40 L534.53,465.43 L535.08,466.46 L535.63,467.50 L536.18,468.55 L536.73,469.60 L537.28,470.65 L537.83,471.72 L538.38,472.79 L538.94,473.86 L539.49,474.94 L540.04,476.03 L540.59,477.12 L541.14,478.22 L541.69,479.33 L542.24,480.44 L542.79,481.56 L543.35,482.68 L543.90,483.82 L544.45,484.95 L545.00,486.10" class="solidT"/>
<path d="M318.5,541.9 V309.5 H550.5 V541.9" class="box"/><line x1="318.0" x2="551.0" y1="541.9" y2="541.9" class="box"/>
<line x1="319.0" x2="323.0" y1="315.50" y2="315.50" class="ytick"/>
<text transform="translate(315.30 315.50) scale(1.12 1) rotate(-90)" class="yl">1.48</text>
<line x1="319.0" x2="323.0" y1="339.50" y2="339.50" class="ytick"/>
<text transform="translate(315.30 339.32) scale(1.12 1) rotate(-90)" class="yl">1.46</text>
<line x1="319.0" x2="323.0" y1="363.50" y2="363.50" class="ytick"/>
<text transform="translate(315.30 363.14) scale(1.12 1) rotate(-90)" class="yl">1.44</text>
<line x1="319.0" x2="323.0" y1="386.50" y2="386.50" class="ytick"/>
<text transform="translate(315.30 386.96) scale(1.12 1) rotate(-90)" class="yl">1.42</text>
<line x1="319.0" x2="323.0" y1="410.50" y2="410.50" class="ytick"/>
<text transform="translate(315.30 410.78) scale(1.12 1) rotate(-90)" class="yl">1.40</text>
<line x1="319.0" x2="323.0" y1="434.50" y2="434.50" class="ytick"/>
<text transform="translate(315.30 434.60) scale(1.12 1) rotate(-90)" class="yl">1.38</text>
<line x1="319.0" x2="323.0" y1="458.50" y2="458.50" class="ytick"/>
<text transform="translate(315.30 458.42) scale(1.12 1) rotate(-90)" class="yl">1.36</text>
<line x1="319.0" x2="323.0" y1="482.50" y2="482.50" class="ytick"/>
<text transform="translate(315.30 482.24) scale(1.12 1) rotate(-90)" class="yl">1.34</text>
<line x1="319.0" x2="323.0" y1="506.50" y2="506.50" class="ytick"/>
<text transform="translate(315.30 506.06) scale(1.12 1) rotate(-90)" class="yl">1.32</text>
<line x1="319.0" x2="323.0" y1="529.50" y2="529.50" class="ytick"/>
<text transform="translate(315.30 529.88) scale(1.12 1) rotate(-90)" class="yl">1.30</text>
<line x1="324.50" x2="324.50" y1="541.0" y2="537.5" class="xtick"/>
<text x="324.50" y="549.90" class="xl">0</text>
<line x1="335.50" x2="335.50" y1="541.0" y2="537.5" class="xtick"/>
<text x="335.52" y="549.90" class="xl">.05</text>
<line x1="346.50" x2="346.50" y1="541.0" y2="537.5" class="xtick"/>
<text x="346.55" y="549.90" class="xl">.1</text>
<line x1="357.50" x2="357.50" y1="541.0" y2="537.5" class="xtick"/>
<text x="357.57" y="549.90" class="xl">.15</text>
<line x1="368.50" x2="368.50" y1="541.0" y2="537.5" class="xtick"/>
<text x="368.60" y="549.90" class="xl">.2</text>
<line x1="379.50" x2="379.50" y1="541.0" y2="537.5" class="xtick"/>
<text x="379.62" y="549.90" class="xl">.25</text>
<line x1="390.50" x2="390.50" y1="541.0" y2="537.5" class="xtick"/>
<text x="390.65" y="549.90" class="xl">.3</text>
<line x1="401.50" x2="401.50" y1="541.0" y2="537.5" class="xtick"/>
<text x="401.68" y="549.90" class="xl">.35</text>
<line x1="412.50" x2="412.50" y1="541.0" y2="537.5" class="xtick"/>
<text x="412.70" y="549.90" class="xl">.4</text>
<line x1="423.50" x2="423.50" y1="541.0" y2="537.5" class="xtick"/>
<text x="423.73" y="549.90" class="xl">.45</text>
<line x1="434.50" x2="434.50" y1="541.0" y2="537.5" class="xtick"/>
<text x="434.75" y="549.90" class="xl">.5</text>
<line x1="445.50" x2="445.50" y1="541.0" y2="537.5" class="xtick"/>
<text x="445.77" y="549.90" class="xl">.55</text>
<line x1="456.50" x2="456.50" y1="541.0" y2="537.5" class="xtick"/>
<text x="456.80" y="549.90" class="xl">.6</text>
<line x1="467.50" x2="467.50" y1="541.0" y2="537.5" class="xtick"/>
<text x="467.82" y="549.90" class="xl">.65</text>
<line x1="478.50" x2="478.50" y1="541.0" y2="537.5" class="xtick"/>
<text x="478.85" y="549.90" class="xl">.7</text>
<line x1="489.50" x2="489.50" y1="541.0" y2="537.5" class="xtick"/>
<text x="489.88" y="549.90" class="xl">.75</text>
<line x1="500.50" x2="500.50" y1="541.0" y2="537.5" class="xtick"/>
<text x="500.90" y="549.90" class="xl">.8</text>
<line x1="511.50" x2="511.50" y1="541.0" y2="537.5" class="xtick"/>
<text x="511.93" y="549.90" class="xl">.85</text>
<line x1="522.50" x2="522.50" y1="541.0" y2="537.5" class="xtick"/>
<text x="522.95" y="549.90" class="xl">.9</text>
<line x1="533.50" x2="533.50" y1="541.0" y2="537.5" class="xtick"/>
<text x="533.98" y="549.90" class="xl">.95</text>
<line x1="545.50" x2="545.50" y1="541.0" y2="537.5" class="xtick"/>
<text x="545.00" y="549.90" class="xl">1</text>
<text x="434.50" y="557.70" class="xl">Forbidden triads density</text>
<text transform="translate(306.70 425.50) scale(1.12 1) rotate(-90)" class="yl">Predicted number of releases</text>
<text x="298.20" y="302.20" class="letter">d</text>
</svg>
</body></html>
